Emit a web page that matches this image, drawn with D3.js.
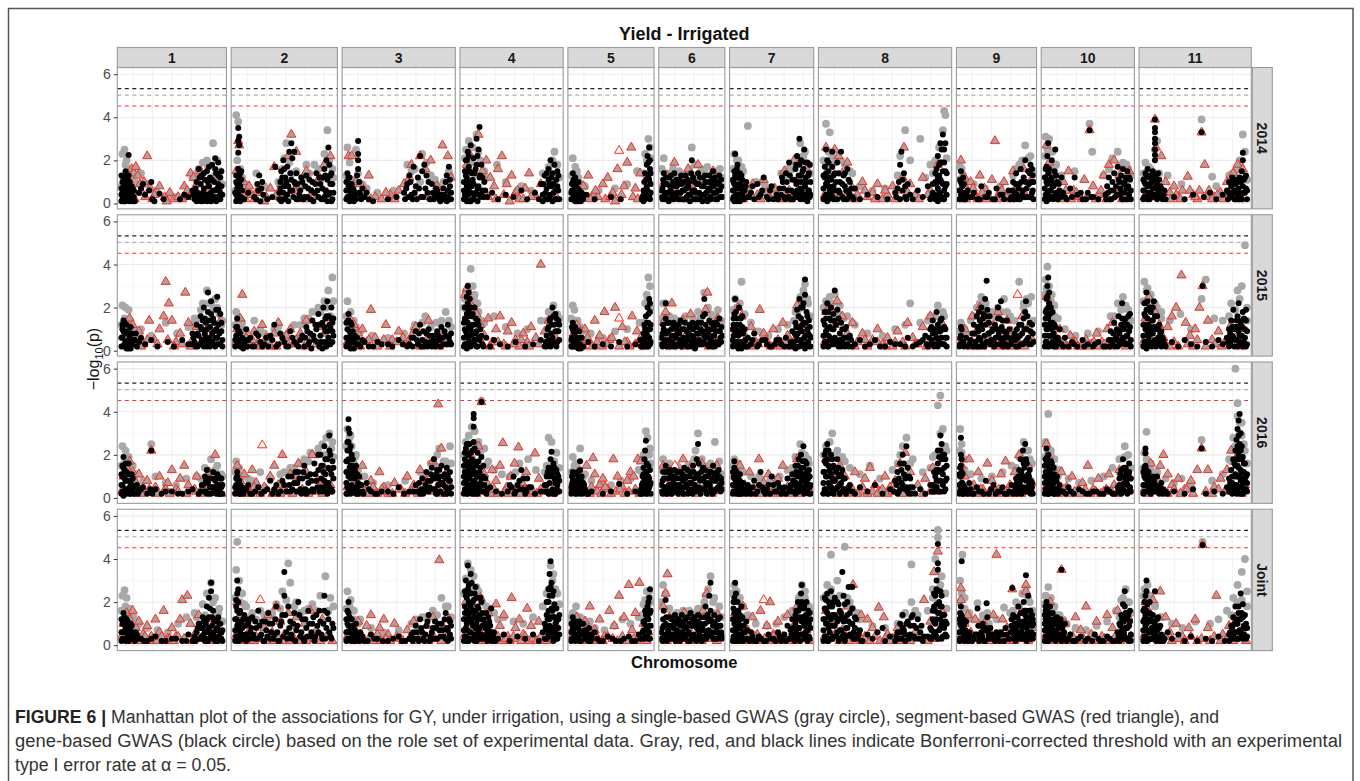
<!DOCTYPE html>
<html>
<head>
<meta charset="utf-8">
<script src="https://cdn.jsdelivr.net/npm/d3@7"></script>
<style>
body { margin: 0; background: #fff; }
text { font-family: "Liberation Sans", Arial, sans-serif; }
</style>
</head>
<body>
<script>
var W = 1360, H = 781;

var years = ["2014", "2015", "2016", "Joint"];
var chromosomes = ["1", "2", "3", "4", "5", "6", "7", "8", "9", "10", "11"];
// relative width of each chromosome facet
var chrSize = [109, 106, 113, 103, 86, 66, 84, 133, 80, 93, 112];
var yTicks = [0, 2, 4, 6];
// Bonferroni thresholds: gene (black), single (gray), segment (red)
var thresholds = [5.33, 5.03, 4.52];

// every chromosome: flat list of position (% of chromosome), -log10(p)
var single2014 = [
  [2,2.3,4,2.5,6,2.0,8,1.6,3,1.2,10,1.3,14,1.0,20,1.4,25,.9,35,.6,48,.4,55,.3,70,1.2,76,1.6,80,1.9,85,1.7,90,2.8,94,2.0,97,1.5,88,1.1,82,.6,1,.8,5,1.8,12,.5,74,1.4,84,2.0,92,1.3,99,.9,66,.5],
  [2,4.1,4,3.8,3,2.0,6,1.6,8,1.2,12,.9,22,1.4,30,.8,44,1.0,50,2.1,52,2.8,55,1.9,62,1.5,68,1.2,75,1.4,80,1.8,86,1.1,93,3.4,95,2.0,98,1.6,1,.6,7,.9,48,1.6,58,1.4,64,.9,72,1.8,84,1.6,90,2.3,99,1.2],
  [2,2.6,4,1.9,10,2.5,12,1.4,8,.9,20,.7,30,.5,45,.6,58,1.8,65,1.6,72,2.3,76,1.9,84,1.1,92,1.0,97,1.5,1,1.3,6,1.1,16,.9,62,1.5,70,1.0,80,1.3,88,.8,98,1.3],
  [3,2.5,6,2.9,10,2.6,14,3.2,16,2.4,4,1.7,12,1.4,25,1.2,35,1.8,44,1.0,60,.8,70,.6,82,1.4,88,1.7,94,2.4,97,1.8,2,2.1,8,1.9,18,2.0,22,1.5,86,1.3,92,2.0,99,1.2],
  [3,2.1,6,1.7,10,1.2,18,.8,35,.6,55,.7,70,.9,82,1.5,92,2.3,96,3.0,98,2.6,2,1.3,8,1.5,14,.9,90,1.4,94,2.0,99,2.1],
  [5,2.1,10,1.4,20,1.6,30,1.5,40,1.3,50,2.6,55,1.8,65,1.6,75,1.7,85,1.4,95,1.6,2,1.6,12,1.1,26,1.4,36,1.2,46,1.6,58,1.3,70,1.5,82,1.3,90,1.5,98,1.2],
  [3,2.3,8,2.0,20,3.6,14,1.5,30,1.0,42,.8,55,.6,62,1.4,70,1.6,80,1.9,86,2.8,92,2.4,97,1.8,1,1.6,6,2.0,12,1.7,38,1.0,66,1.3,76,1.6,84,2.0,90,2.2,99,1.4],
  [3,3.7,6,3.3,8,2.2,12,2.0,18,1.8,22,1.5,30,.8,40,.6,50,.7,60,1.3,66,3.4,70,2.0,78,3.0,82,1.2,88,1.4,94,2.6,97,4.3,98,4.1,96,3.4,1,2.0,5,2.4,10,1.9,15,2.0,24,1.4,62,2.2,86,1.8,90,2.0,93,2.6,99,2.1],
  [2,1.7,6,1.3,20,.9,35,.7,55,.8,72,1.3,80,1.8,88,2.7,95,2.2,1,1.1,4,1.6,10,1.0,76,1.6,84,2.0,92,2.1,99,1.5],
  [2,3.1,6,3.0,10,2.4,14,1.8,20,1.3,35,1.5,52,3.7,55,2.4,68,1.3,78,2.1,84,2.4,90,1.9,96,1.6,1,2.2,4,2.5,8,1.7,12,1.5,74,1.6,86,1.7,94,1.8,99,1.3],
  [3,1.9,8,1.6,12,2.5,14,2.9,24,1.3,37,.9,56,3.9,66,1.25,70,.8,85,1.4,92,2.0,95,3.2,97,2.4,1,1.4,6,1.7,10,1.2,16,1.4,82,1.3,88,1.5,93,1.7,99,1.1]
];
var seg2014 = [
  [5,.6,8,1.1,11,1.6,13,1.4,15,1.7,17,1.3,19,.9,21,.5,23,1.0,26,2.2,29,.7,33,.4,38,.8,43,.3,48,.5,52,.2,56,.3,62,.8,65,.6,68,1.4,71,1.2,74,.9,78,1.5,84,.7,92,1.2,7,.3,10,.6,14,.2,24,.3,31,.2,45,.1,60,.2,67,.3,82,.4],
  [2,1.5,4,2.9,5,2.7,9,1.0,13,.6,17,.4,20,.2,26,.5,32,.3,36,.7,40,1.7,44,.3,50,1.0,54,2.2,57,3.2,62,2.4,66,.8,72,1.5,78,.5,85,1.2,90,1.8,96,2.2,11,.2,15,.8,23,.6,30,.1,42,.4,47,.9,60,.6,70,.2,82,.3,93,.5],
  [3,2.2,6,2.2,10,1.0,14,.9,18,.6,22,1.3,28,.3,34,.2,42,.4,50,.6,55,.9,60,1.2,62,1.8,70,2.2,75,1.6,80,2.0,86,.8,91,2.7,96,2.2,99,1.2,5,.4,12,.3,24,.2,38,.5,46,.2,64,.4,78,.3,88,.5,94,.2],
  [4,1.8,8,2.2,16,3.2,20,1.5,24,2.0,28,1.2,32,.8,36,1.6,40,2.2,45,.9,50,1.3,54,.5,58,.2,64,.7,68,1.4,74,.4,80,.9,86,.3,92,1.1,10,.3,18,.5,26,.3,34,.2,42,.4,48,.1,56,.6,62,.2,70,.3,96,.3],
  [4,1.0,10,.6,16,.8,22,1.3,28,.4,34,.3,40,.9,46,1.2,52,.5,58,1.6,66,.8,70,1.9,75,2.6,80,.7,86,1.4,94,1.1,7,.2,13,.3,25,.2,31,.6,43,.2,49,.3,55,.1,63,.4,77,.3,83,.2,90,.4],
  [4,.9,10,1.3,16,.6,22,1.9,28,.4,36,1.0,44,1.6,52,.7,60,1.8,68,1.1,76,.5,84,1.5,92,.8,6,.3,14,.2,26,.5,40,.2,56,.4,72,.2,88,.3],
  [4,1.2,10,.7,18,.3,26,.9,32,.4,40,1.1,48,.3,54,.7,60,.2,66,1.5,72,.6,78,2.0,86,1.0,94,1.6,7,.4,14,.2,22,.6,36,.2,44,.5,58,.3,74,.2,82,.4,90,.3],
  [3,2.6,6,1.7,10,2.5,13,2.2,16,1.4,20,1.9,24,.7,28,.4,32,1.0,36,.3,40,.5,44,.9,48,.2,52,.4,56,.8,60,.6,64,1.2,65,2.6,70,.9,74,.4,80,1.2,86,.6,92,1.8,2,.4,9,.5,18,.3,26,.2,34,.6,42,.2,50,.6,58,.2,68,.5,77,.2,84,.4,89,.3],
  [3,2.0,8,1.2,12,.6,16,1.0,22,.4,28,1.3,34,.7,40,.3,44,1.1,48,2.9,54,.5,60,1.0,66,.4,72,1.5,78,.8,86,1.6,94,1.0,5,.3,10,.2,19,.7,25,.2,31,.5,37,.2,51,.2,57,.6,63,.3,69,.2,81,.4,90,.3],
  [3,2.7,6,1.9,10,1.2,16,.5,22,1.0,28,1.5,34,.6,40,.3,46,1.1,52,3.4,56,.8,62,.4,68,1.3,74,1.8,80,2.0,86,1.3,92,.7,97,1.5,8,.5,13,.3,19,.2,25,.6,31,.2,37,.5,43,.2,49,.3,59,.2,65,.6,71,.2,83,.4,89,.2],
  [4,1.3,8,.8,12,3.9,13,2.6,18,2.2,22,1.0,26,.5,30,.8,34,.3,38,.6,43,1.25,48,.4,52,.2,56,3.3,59,1.8,63,.6,68,.3,74,.5,80,1.0,86,1.4,90,1.8,95,1.6,2,.3,7,.3,10,.6,16,.3,20,.5,27,.2,32,.4,36,.2,45,.6,50,.3,54,.6,61,.3,66,.2,71,.4,77,.2,83,.5,93,.2]
];
var gene2014 = [
  [1,.1,1,.4,1,.7,2,1.0,2,.2,3,.5,3,.8,3,1.2,4,.1,4,.3,4,.6,5,.9,5,1.3,5,1.5,6,.2,6,.5,7,.8,7,1.1,8,2.25,8,.3,9,.6,9,1.0,10,.2,11,.4,12,.7,13,.3,14,.1,18,.5,20,.7,22,.9,24,.4,28,.6,30,1.0,31,.2,33,.1,38,.45,42,.2,58,.2,62,.4,66,.3,70,.6,72,.2,74,1.0,75,.5,76,1.6,77,.3,78,.9,79,1.3,80,.1,81,.7,82,1.1,83,.4,84,1.5,85,.2,86,.8,87,1.2,88,.5,89,1.8,90,.2,91,1.0,92,2.1,92,.6,93,1.4,94,.3,95,1.9,95,.9,96,.2,97,1.2,97,.5,98,.8,1,1.3,2,.5,3,.1,4,.9,5,.1,6,.9,7,.5,8,1.3,9,.1,10,.5,11,.8,12,.1,13,.6,71,.4,73,.7,74,.1,76,.3,77,1.2,78,.1,80,.5,81,1.4,82,.3,84,.1,85,1.0,86,1.7,87,.4,88,.1,89,1.1,90,.6,91,.3,92,1.6,93,.1,94,.7,95,1.3,96,.6,97,.2,98,1.5,99,.4],
  [2,.1,2,.4,3,.7,2,1.0,3,1.3,4,1.6,3,.2,4,.5,5,.9,5,1.2,4,2.35,5,2.7,4,2.9,5,3.1,4,3.5,6,1.4,7,.3,8,.6,7,1.5,10,.2,14,.5,20,.3,23,.9,25,1.3,27,.7,29,.4,33,.2,38,.3,41,1.7,45,.5,46,1.0,47,1.5,48,.2,49,2.0,50,.8,51,1.2,52,.4,53,1.7,54,.1,55,2.4,56,.6,57,2.8,57,1.1,58,2.1,59,.3,60,2.4,61,.9,62,1.4,64,.2,66,.6,68,1.0,70,.3,72,1.3,74,.7,76,.2,78,1.0,80,.5,82,1.4,84,.3,86,.9,88,1.2,89,.2,90,1.6,91,.6,92,2.0,93,1.1,94,2.6,94,.4,95,1.8,96,.9,97,1.4,98,.2,1,.5,2,1.3,3,.9,6,.1,6,.8,7,1.1,8,.2,22,.2,24,.6,26,.1,28,1.0,45,.2,46,.7,47,.1,48,1.2,49,.5,50,1.6,51,.2,52,1.0,53,.4,54,.8,56,1.4,58,.6,60,1.0,62,.2,63,.9,65,.4,67,1.2,69,.2,71,.8,73,.3,75,1.1,77,.6,79,.1,81,.9,83,.6,85,1.2,87,.2,88,.7,90,.3,91,1.3,92,.4,93,.1,95,.5,96,1.3,97,.1,98,.9,99,.5],
  [1,.2,1,.6,2,1.0,2,1.4,3,.3,3,.8,4,.1,4,1.2,5,.5,6,.9,7,.2,8,.6,11,1.3,12,1.6,12,2.0,12,2.3,12,2.9,13,1.0,14,.4,16,.7,18,.3,20,.5,22,.2,26,.1,40,.2,48,.3,55,.5,58,.9,60,1.3,62,.4,64,1.7,66,.8,68,1.2,70,2.2,71,.3,72,1.5,74,1.8,75,.7,76,1.3,78,1.0,80,.2,82,.5,84,.3,86,.6,88,.2,90,.4,92,.7,94,1.0,95,1.3,96,.3,97,1.7,98,.8,99,.5,1,1.0,2,.3,3,1.2,4,.6,5,.2,6,.4,7,.7,8,.1,9,.4,10,.2,13,.5,15,.2,56,.2,57,.7,59,.3,61,1.0,63,.2,65,.5,67,.2,69,.7,73,.3,77,.5,79,.2,81,.9,83,.2,85,.7,87,.4,89,.1,91,.2,93,.4,95,.1,96,.6,97,.2,98,1.1,99,.2],
  [1,.2,1,.6,2,1.0,2,1.5,3,.3,3,2.0,4,.8,4,1.2,5,2.4,5,.4,6,1.7,7,.1,7,1.0,8,2.7,8,.5,9,1.4,10,.2,11,2.1,11,.9,12,.4,13,1.6,14,3.0,15,.7,16,2.5,17,3.55,17,1.2,18,.3,19,1.8,20,.6,22,1.0,25,.3,30,.5,36,.2,44,.4,52,.3,60,.6,66,.2,74,.5,78,.2,80,.9,82,.4,84,1.3,85,.2,86,.7,88,1.6,88,1.1,89,.3,90,2.0,91,.8,92,1.4,93,.5,94,1.8,95,.2,96,1.1,97,1.5,98,.6,1,1.0,2,.4,3,1.3,4,.1,4,2.0,5,1.0,6,.6,6,2.2,7,1.5,8,.1,9,.8,10,1.1,11,.2,12,1.4,13,.5,14,1.8,15,.1,15,2.2,16,.8,17,.4,18,1.3,19,.4,20,1.2,21,.3,23,.6,82,.1,83,.9,85,.5,86,1.4,87,.2,89,.9,90,.4,91,1.2,92,.1,93,.9,95,.6,96,.2,97,.8,98,1.3,99,.2],
  [1,.2,2,.6,3,1.0,3,1.4,4,.3,5,.8,6,1.2,7,.4,8,.1,9,.7,10,1.0,12,.3,14,.5,16,.2,20,.4,30,.2,50,.3,62,.2,88,.2,90,.6,91,1.0,92,1.4,93,.3,94,1.8,94,.8,95,2.2,96,1.2,96,.5,97,2.6,98,1.6,98,.2,99,.9,1,.5,2,.9,3,.2,4,1.1,5,.4,6,.1,7,.9,8,.6,9,.3,10,.1,11,.6,13,.1,15,.4,89,.3,90,.1,91,.5,92,.2,93,1.1,95,.6,96,1.9,97,.3,97,1.1,98,2.0,99,.5,99,1.4],
  [2,.3,3,.7,4,1.1,5,1.4,6,.2,8,.5,10,.9,12,.2,14,1.2,16,.6,18,.3,20,1.0,22,1.4,24,.4,26,.8,28,.2,30,1.1,32,.5,34,.9,36,.2,38,.6,40,1.3,42,.3,44,.8,46,1.0,48,.4,50,2.0,52,1.2,54,.6,56,.2,58,.9,60,1.4,62,.5,64,.2,66,.8,68,1.2,70,.4,72,1.0,74,.2,76,.7,78,1.3,80,.3,82,.9,84,1.5,86,.5,88,.2,90,1.0,92,.6,94,1.3,96,.3,98,.8,1,.6,3,.2,5,.9,7,.4,9,1.2,11,.5,13,.1,15,.8,17,1.3,19,.5,21,.2,23,.8,25,1.1,27,.5,29,.9,31,.2,33,1.3,35,.6,37,1.0,39,.2,41,.7,43,1.1,45,.4,47,.1,49,1.4,51,.6,53,.2,55,1.0,57,.5,59,.2,61,.9,63,1.2,65,.4,67,.1,69,.8,71,1.3,73,.5,75,.1,77,1.0,79,.6,81,.2,83,1.1,85,.8,87,1.2,89,.5,91,.2,93,.9,95,.6,97,1.1,99,.3],
  [1,.2,2,.6,2,1.0,3,1.5,4,2.3,4,.3,5,.8,6,1.2,7,1.8,8,.4,9,.9,10,1.4,11,.2,12,.7,13,1.1,14,.3,16,.6,18,1.0,20,.3,24,.5,28,.2,32,.9,36,.4,40,1.2,44,.3,48,.6,52,.2,56,.4,60,.7,64,1.0,66,.3,68,1.4,70,.6,72,1.9,74,.2,76,1.1,78,.5,80,1.6,81,.9,82,2.2,83,.3,84,1.3,85,3.0,86,.7,87,2.0,88,1.0,89,.4,90,1.6,91,2.5,92,.8,93,1.2,94,.2,95,1.9,96,.6,97,1.4,98,.3,99,1.0,1,.6,1,1.1,2,.3,3,.1,3,.9,4,1.3,5,.4,6,.1,6,1.6,7,.7,8,1.2,9,.4,10,.1,11,.9,12,1.3,13,.5,15,.2,17,.8,22,.3,26,.8,34,.3,38,.6,46,.2,50,.8,58,.2,62,.4,63,1.2,65,.7,67,.2,69,1.0,71,.3,73,1.3,75,.6,77,.2,79,1.1,80,.3,81,1.8,82,.6,83,1.0,84,.4,85,1.8,86,.2,87,1.3,88,.6,89,1.5,90,.2,91,1.0,92,1.9,93,.4,94,1.0,95,.1,96,1.3,97,.6,98,1.8,99,.4],
  [1,.2,1,.7,2,1.2,2,1.7,3,2.5,3,.4,4,1.0,4,2.0,5,.2,5,1.5,6,.6,7,1.1,8,2.4,8,.3,9,.8,10,1.4,11,.2,12,1.9,13,.6,14,1.0,15,2.4,16,.3,17,1.3,18,.8,19,.2,20,1.6,21,.5,22,1.0,24,.3,26,.7,30,.2,36,.4,44,.3,52,.2,58,.5,61,1.0,62,1.8,63,2.4,64,.6,65,1.4,66,.3,68,.9,72,.2,76,.6,80,.3,84,.8,86,.2,88,.5,90,1.0,91,1.6,91,.3,92,2.2,92,.7,93,1.3,94,2.8,94,.4,95,1.9,95,1.0,96,3.2,96,.2,97,2.5,97,.6,98,1.5,99,.9,1,1.3,2,.3,3,.9,3,1.4,4,.1,5,.8,5,1.9,6,1.2,7,.4,8,1.7,9,.2,9,1.3,10,.6,11,1.0,12,.2,13,1.4,14,.5,16,.9,17,.2,18,1.4,19,.6,20,.2,21,1.1,22,.4,23,.7,25,.2,59,.3,60,.7,62,.2,64,1.1,66,.8,67,.2,70,.4,87,.3,88,.9,89,.4,90,.2,90,1.4,91,.9,92,.1,92,1.2,93,.5,93,1.8,94,1.1,94,1.9,95,.3,95,2.5,96,.9,96,1.5,97,.2,97,1.9,98,.8,98,2.8,99,.4,99,1.4],
  [1,.2,2,.6,3,1.0,3,1.5,4,.3,5,.8,6,1.2,7,.4,9,.2,12,.6,15,.3,20,.5,25,.2,30,.8,35,.3,40,.5,45,.2,50,.7,55,.4,60,.2,66,.6,70,.3,72,1.0,74,.5,76,1.4,78,.2,80,.9,82,1.6,84,.4,86,1.2,88,2.0,90,.7,92,1.5,94,.3,95,1.8,96,1.0,97,.5,98,1.3,99,.2,1,.6,2,.2,2,1.1,3,.4,4,.9,5,.2,6,.5,7,.9,8,.2,10,.4,18,.3,28,.2,38,.3,48,.2,58,.4,68,.2,71,.6,73,.2,75,.9,77,.4,79,.7,81,.2,83,1.0,85,.6,87,.3,89,1.0,91,.3,93,.9,94,1.4,96,.3,97,1.6,98,.6,99,1.0],
  [1,.2,1,.7,2,1.2,3,1.7,3,.4,4,2.2,4,.9,5,1.4,5,2.8,6,.2,7,.6,8,1.1,9,2.0,10,.3,11,.8,12,1.5,13,2.5,14,.5,15,1.0,16,.2,18,.6,20,1.2,24,.3,30,.7,35,1.2,38,.4,44,.2,50,.5,52,3.4,56,.3,62,.2,70,.4,72,.8,74,1.2,75,.2,76,.6,78,1.0,80,1.4,81,.3,82,.8,84,1.7,85,1.1,86,.4,87,.7,88,1.3,89,.2,90,1.6,91,.9,92,.5,93,1.2,94,.2,95,1.5,96,.8,97,.4,98,1.1,99,.6,1,1.2,2,.4,2,1.6,3,.1,3,1.0,4,.5,5,.2,6,1.0,6,1.6,7,.3,8,.6,9,1.2,10,.8,11,.2,12,.9,13,.4,14,1.3,15,.4,17,.9,19,.3,22,.5,26,.2,32,.3,42,.5,48,.2,54,.3,71,.2,73,.5,77,.2,79,.6,83,.4,86,1.0,88,.5,90,.2,92,1.0,94,.7,96,.2,97,1.2,99,.2],
  [1,.2,2,.6,2,1.0,3,1.4,4,.3,5,.8,6,1.2,7,.2,8,.5,9,1.0,10,1.5,11,.4,12,2.0,12,2.25,12,2.5,12,2.8,12,3.0,12,3.3,12,3.5,12,3.9,13,.8,13,1.3,14,.2,15,.6,16,1.1,17,.3,18,.7,20,.4,22,.2,30,.3,40,.2,48,.4,56,3.3,58,.3,64,.5,70,.2,76,.4,80,.6,82,1.0,83,.3,84,.8,85,1.2,86,.5,87,.2,88,.9,89,1.1,90,.4,91,.7,92,1.2,93,.3,94,1.5,95,2.0,95,2.35,95,.8,96,1.1,97,.5,98,1.3,99,.2,1,.6,1,1.1,2,.3,3,.9,4,1.3,5,.2,5,1.6,6,.5,7,.9,8,1.3,9,.3,10,.7,11,1.1,13,.3,14,1.0,15,1.4,16,.4,17,.8,19,.2,21,.6,81,.2,82,.5,84,.3,86,1.0,87,.6,88,.2,89,.6,90,1.0,91,.2,92,.5,93,1.0,94,.2,96,.5,97,1.2,98,.7,99,.6]
];

var single2015 = [
  [2,2.1,5,2.0,8,1.9,4,1.5,10,1.2,14,.9,20,1.0,30,.7,44,1.3,55,.8,66,1.1,72,1.5,78,1.9,84,2.8,88,2.2,92,2.4,96,1.7,98,1.2,1,1.2,7,1.3,12,1.0,70,1.2,76,1.5,80,2.2,86,2.2,90,1.9,94,2.0,99,1.4],
  [2,1.8,4,1.5,8,1.3,12,.9,20,1.4,30,.8,40,1.0,50,.7,60,1.2,70,1.5,78,1.8,84,2.0,90,2.3,94,2.8,98,3.4,96,1.6,1,1.2,6,1.1,26,1.0,44,1.1,66,1.2,74,1.5,86,1.8,92,2.0,99,2.3],
  [2,2.3,5,1.8,8,1.4,14,.9,25,.7,40,.6,55,.8,65,1.2,75,1.6,85,1.3,94,1.8,97,1.4,1,1.6,4,1.2,10,1.1,64,1.0,72,1.3,80,1.1,90,1.4,99,1.1],
  [3,2.7,6,3.0,8,3.8,10,3.0,12,2.6,15,2.2,4,1.9,22,1.3,32,1.6,44,1.1,56,.8,66,1.0,80,1.4,88,1.8,93,2.1,97,1.7,1,2.0,2,2.4,12,2.3,16,1.8,19,1.4,86,1.4,90,1.8,99,1.5],
  [3,2.1,5,1.9,9,1.4,15,.9,25,.8,40,.6,55,.9,70,1.0,85,1.3,92,2.2,96,3.4,98,3.0,94,2.6,1,1.5,6,1.4,12,1.1,90,1.3,95,2.4,99,2.0],
  [4,2.2,8,2.2,14,1.6,22,1.5,30,1.3,40,1.6,50,1.2,60,1.8,70,2.7,76,2.0,84,1.6,92,1.9,97,1.4,2,1.5,12,1.6,26,1.4,38,1.5,52,1.5,64,1.5,80,1.7,88,1.6,96,1.4],
  [4,2.4,10,2.2,12,3.2,16,1.7,24,1.3,34,.9,46,.7,58,1.0,70,1.2,80,1.8,86,2.5,90,2.8,92,3.1,96,2.2,1,1.9,6,2.0,14,1.6,30,.9,78,1.4,84,1.9,88,2.2,95,2.4,99,1.6],
  [3,2.3,6,2.5,10,2.6,14,2.1,20,1.6,26,1.2,36,.8,48,.7,58,1.0,66,1.2,70,2.2,78,1.3,86,1.6,92,2.1,96,1.8,1,2.0,4,2.2,8,2.2,12,1.8,17,1.5,24,1.3,84,1.4,90,1.6,97,1.6],
  [3,1.3,8,1.0,16,1.4,24,2.0,30,2.5,36,2.2,44,1.8,52,2.0,60,2.4,68,1.6,80,3.2,86,2.0,92,2.2,96,2.5,1,.9,10,.8,20,1.6,28,2.2,34,2.0,40,1.6,48,1.6,56,1.8,64,1.8,74,1.4,86,2.2,90,2.4,99,1.4],
  [2,3.3,4,3.9,6,3.0,9,2.6,12,2.1,16,1.5,24,1.0,36,.7,50,.8,62,.9,76,1.6,84,2.2,90,2.5,96,1.9,1,2.6,3,2.9,6,2.5,8,2.3,12,1.6,80,1.6,88,1.9,93,2.1,99,1.4],
  [2,3.2,5,2.9,8,2.6,12,2.2,18,1.8,26,1.4,36,1.7,46,1.0,56,2.4,60,3.3,68,1.5,76,1.4,84,2.2,90,2.8,94,3.0,97,4.9,99,2.0,1,2.3,4,2.8,8,2.0,14,2.0,18,1.5,82,1.6,88,1.9,92,2.4,99,1.4]
];
var seg2015 = [
  [3,.7,6,1.0,9,1.5,12,1.2,15,.6,18,.9,22,.3,28,1.4,33,.5,38,1.0,42,1.6,44,3.2,47,2.2,50,1.4,54,.4,58,.8,63,2.7,66,1.3,70,.5,74,1.1,78,.3,84,1.0,90,.6,96,1.3,4,.3,10,.4,20,.2,26,.5,36,.3,46,.5,52,.2,60,.3,68,.2,80,.5,93,.4],
  [3,1.0,6,1.5,8,2.6,12,.6,16,.3,20,.9,24,.4,28,1.2,32,.6,36,.2,40,.8,44,1.3,48,.4,52,.7,56,1.0,60,.3,66,.8,72,1.4,78,.6,84,1.1,90,.8,96,1.5,2,.4,10,.2,18,.5,26,.2,34,.4,42,.2,54,.3,62,.5,70,.2,82,.3,88,.2,94,.4],
  [4,1.5,8,1.2,12,.8,16,1.0,20,.4,24,1.9,28,.6,32,.3,38,1.2,44,.5,50,.9,56,.3,62,.7,66,1.1,72,.4,78,1.4,84,.6,90,.9,96,.3,2,.4,6,.3,10,.5,14,.2,22,.5,30,.2,36,.5,42,.2,48,.4,54,.6,60,.3,70,.2,76,.5,82,.3,88,.2,94,.5],
  [2,2.6,4,2.9,6,2.5,10,2.0,14,1.7,18,1.2,22,.7,26,1.5,30,.4,34,1.0,38,1.6,42,.3,46,.9,50,1.3,54,.5,58,.2,62,.8,66,.4,70,1.1,75,.6,80,4.0,84,.9,88,1.4,94,.7,8,.5,12,.3,20,.3,28,.2,36,.4,44,.2,52,.3,60,.5,68,.2,78,.3,90,.3],
  [4,.8,8,1.2,12,.5,18,1.0,24,.4,30,1.4,36,.7,42,1.8,48,.5,55,2.0,64,1.1,70,.4,76,1.6,82,.9,88,.3,94,1.2,2,.3,6,.2,10,.3,16,.2,21,.6,27,.2,33,.4,39,.2,45,.3,51,.6,60,.2,67,.4,73,.2,80,.3,85,.5,91,.2],
  [4,1.3,8,1.8,12,.7,18,2.2,24,1.0,30,.4,36,1.4,42,.8,48,1.7,54,.5,60,1.2,66,.3,72,1.9,75,2.7,80,1.0,86,.6,92,1.5,6,.3,15,.2,27,.5,39,.2,51,.3,63,.6,77,.2,89,.3],
  [4,1.0,8,2.0,12,1.6,18,.6,24,1.1,30,.4,35,1.9,40,.8,46,.3,52,1.0,58,.5,64,1.3,70,.7,76,.3,82,2.1,88,1.2,94,.8,2,.4,6,.3,14,.2,20,.5,27,.2,33,.3,43,.5,49,.2,55,.3,61,.2,67,.4,73,.2,79,.5,91,.3],
  [3,1.8,6,2.0,10,1.2,12,2.3,16,1.6,20,.8,24,1.3,28,.4,32,.8,36,.2,40,.5,44,1.0,48,.3,52,.6,56,.2,60,.9,64,.4,68,1.3,72,.6,76,.3,80,1.1,86,1.6,92,.7,96,1.2,2,.4,7,.5,14,.3,18,.4,26,.2,34,.5,44,.4,50,.2,58,.4,66,.2,74,.3,83,.2,89,.4],
  [4,.6,8,1.0,12,.4,18,1.6,22,.8,28,2.0,34,1.5,40,.6,46,1.2,52,1.8,58,.5,64,1.4,70,.9,76,.4,84,1.6,90,1.0,96,.6,2,.3,10,.3,16,.2,24,.4,31,.2,37,.3,43,.4,49,.2,55,.3,61,.2,67,.4,73,.2,81,.3,87,.2,93,.5],
  [3,2.5,6,1.8,10,1.2,14,.6,18,1.0,24,.3,30,.7,36,.4,42,.2,48,.5,54,.3,60,.8,66,.4,72,1.0,78,1.3,84,.6,90,1.1,96,.4,5,.3,8,.5,12,.3,16,.2,21,.4,27,.2,33,.4,39,.2,45,.3,51,.2,57,.4,63,.2,69,.3,75,.2,81,.4,87,.3,93,.2],
  [3,1.5,6,2.5,9,2.0,12,1.8,16,1.2,20,.6,24,1.1,28,1.6,32,2.0,37,3.5,41,1.3,45,.7,50,1.0,54,2.0,57,3.0,62,1.4,66,.5,72,.9,78,.4,84,1.2,90,.7,96,1.0,1,.4,8,.5,14,.3,18,.5,22,.3,26,.2,30,.4,34,.2,43,.3,48,.2,52,.5,60,.2,69,.3,75,.2,81,.5,87,.3,93,.2]
];
var gene2015 = [
  [1,.2,2,.6,2,1.0,3,1.4,4,.3,5,.8,6,1.2,7,.4,8,.1,9,.7,10,1.1,12,.3,14,.5,16,.2,20,.6,24,.3,30,.5,36,.2,46,.4,52,.2,60,.5,66,.3,70,.8,72,.4,74,1.2,75,.2,76,.7,78,1.6,79,1.0,80,.4,81,2.0,82,.8,83,1.3,84,.2,85,2.7,85,1.8,86,.6,87,1.1,88,2.3,89,.4,90,1.5,91,.9,92,.2,93,1.9,94,2.5,94,.6,95,1.2,96,.3,97,1.7,98,.9,99,.5,1,.6,2,1.2,3,.2,3,.9,4,1.3,5,.4,6,.1,7,.9,8,.5,9,.3,10,.1,11,.8,13,.5,15,.8,18,.4,69,.3,71,.6,73,.2,75,.8,77,.3,78,1.1,79,.5,80,1.4,81,.2,82,1.5,83,.6,84,1.0,85,.4,86,1.4,87,.2,88,1.7,89,.8,90,.3,91,1.3,92,.6,93,1.0,94,.3,95,1.9,96,.8,97,.3,98,1.3,99,.2],
  [1,.2,2,.7,3,1.1,3,1.5,4,.4,5,.9,6,.2,8,.6,10,.3,12,1.0,14,.5,18,.2,22,.8,26,.4,30,.3,36,.7,40,1.2,44,.3,48,.6,52,.2,56,.9,60,.4,64,.2,68,.7,72,1.1,74,.3,76,.8,78,1.4,80,.5,82,1.0,84,1.7,85,.2,86,.7,88,1.3,89,2.0,90,.4,91,.9,92,1.6,93,2.3,94,.6,95,1.2,96,.3,97,2.0,98,.9,99,1.5,1,.5,2,1.1,3,.3,4,.9,5,.5,6,.8,7,.3,9,.1,11,.5,13,.2,16,.6,20,.2,24,.7,28,.2,32,.6,34,.2,38,.5,42,.2,46,.8,50,.4,54,.2,58,.6,62,.3,66,.5,70,.2,71,.6,73,.9,75,.4,77,.1,79,.7,81,1.2,83,.4,85,1.2,87,.4,88,.1,90,1.1,91,1.5,92,.2,93,.9,94,1.6,95,.4,96,1.1,97,1.5,98,.4,98,1.3,99,.7],
  [1,.2,2,.6,2,1.0,3,1.4,3,1.7,4,.3,5,.8,6,1.2,7,.4,8,.1,9,.7,12,.3,16,.5,22,.2,30,.4,40,.3,50,.5,58,.2,62,.6,66,.9,68,.3,70,1.2,72,.5,74,.2,76,.8,78,1.0,80,.4,82,.7,84,.2,86,.9,88,.5,90,1.1,92,.3,94,.7,96,1.2,98,.4,99,.8,1,.6,1,1.3,2,.3,3,.5,4,.9,5,.1,5,1.3,6,.6,7,.9,8,.4,10,.3,11,.6,14,.2,18,.4,26,.2,34,.3,44,.2,54,.3,60,.3,63,.2,64,.6,67,.5,69,.8,71,.2,73,.9,75,.4,77,.2,79,.7,81,.2,83,.5,85,.3,87,.7,89,.2,91,.6,93,.9,95,.3,97,.6,99,.3],
  [1,.2,1,.6,2,1.0,2,1.5,3,2.0,3,.3,4,2.5,4,.8,5,1.3,5,3.0,6,1.8,6,.4,7,1.0,7,2.4,8,.2,9,.7,9,1.6,10,1.2,11,.4,12,2.0,13,.8,14,.2,15,1.4,16,.6,18,1.0,20,.3,24,.6,28,.2,32,.5,38,.3,46,.2,54,.4,64,.2,72,.3,80,.5,84,.2,86,.7,88,1.1,89,.3,90,1.5,91,.8,92,2.0,93,.4,94,1.2,95,1.7,96,.2,97,.9,98,1.4,99,.5,1,1.3,2,.3,2,2.0,3,.9,3,1.5,4,.1,4,1.7,5,.6,5,2.2,6,1.1,6,2.7,7,.4,7,1.6,8,1.0,8,2.0,9,.3,10,.8,10,1.7,11,1.2,12,.5,13,1.5,14,.9,15,.2,16,1.2,17,.5,19,.7,21,.2,85,.4,86,.2,87,1.0,88,.5,89,1.4,90,.2,91,1.2,92,.6,93,1.6,94,.3,95,.9,96,1.5,97,.4,98,.9,99,1.2],
  [1,.2,2,.6,3,1.0,3,1.3,4,.3,5,.8,6,.2,7,.5,8,.9,10,.3,12,.6,16,.2,22,.4,30,.2,40,.3,50,.2,60,.4,70,.2,80,.3,86,.5,88,.2,90,.8,91,1.2,92,.4,93,1.6,94,.9,95,2.0,95,.3,96,1.3,97,2.4,97,.6,98,1.8,98,1.0,99,.4,1,.5,2,1.1,3,.2,4,.9,5,.4,6,1.1,7,.2,8,.4,9,.6,10,.1,11,.9,12,.3,13,.1,14,.6,87,.2,89,.4,90,.2,91,.6,92,1.0,93,.2,94,1.3,95,.7,96,.2,96,1.7,97,1.0,98,.3,98,2.2,99,1.2],
  [2,.3,3,.8,4,1.2,6,.5,8,2.2,8,1.5,10,.2,12,.9,14,1.3,16,.4,18,.7,20,1.1,22,.2,24,.6,26,1.0,28,.3,30,.8,32,1.4,34,.2,36,.6,38,1.0,40,.3,42,.9,44,.5,46,1.2,48,.2,50,.7,52,1.0,54,.4,56,.2,58,.8,60,1.3,62,.5,64,1.0,66,.3,68,1.6,70,2.4,70,.7,72,1.2,74,.3,76,.9,78,1.4,80,.5,82,1.0,84,.2,86,.7,88,1.3,90,.4,92,.9,94,1.5,96,.6,98,1.1,1,.6,3,.2,5,1.0,7,.4,9,.8,11,1.3,13,.5,15,.2,17,1.0,19,.4,21,1.3,23,.7,25,.2,27,.9,29,1.2,31,.5,33,.2,35,1.0,37,.4,39,1.3,41,.6,43,.2,45,.8,47,1.1,49,.4,51,1.3,53,.6,55,.1,57,1.1,59,.4,61,.8,63,.3,65,1.3,67,.9,69,.4,71,1.7,73,.6,75,1.0,77,.2,79,.7,81,1.3,83,.4,85,1.1,87,.2,89,.9,91,1.2,93,.3,95,.9,97,.4,99,.7],
  [1,.2,2,.7,2,1.2,3,1.7,4,2.4,4,.4,5,1.0,6,1.5,7,.2,8,.7,9,2.0,10,1.2,11,.3,12,.8,13,1.6,14,.4,16,1.0,18,.2,20,.6,24,.3,28,.8,32,.2,38,.5,44,.3,50,.2,56,.5,62,.3,68,.6,72,.2,76,.9,78,.4,80,1.3,81,.7,82,1.9,83,.2,84,1.1,85,2.4,86,.5,87,1.5,88,.9,89,2.0,90,.3,91,1.3,92,3.3,92,2.6,93,.7,94,1.8,95,1.0,96,.4,97,1.4,98,.7,99,.2,1,.5,1,1.0,2,1.5,3,.3,3,1.1,4,.8,5,1.8,6,.4,7,1.2,8,.1,9,.9,10,.4,11,1.5,12,.1,13,1.1,14,.8,15,.3,17,.5,20,.2,26,.5,34,.3,42,.5,48,.2,54,.3,60,.5,66,.2,74,.4,77,.2,79,.8,80,.1,81,1.1,82,.5,83,.8,84,1.6,85,.2,86,1.0,87,2.0,88,.3,89,1.2,90,2.2,91,.6,92,.1,93,1.3,94,.3,95,1.6,96,.8,97,.2,98,1.1,99,.6],
  [1,.2,1,.7,2,1.2,2,1.8,3,.4,4,1.0,4,2.2,5,.2,6,1.5,6,.6,7,2.0,8,.3,9,1.0,10,2.8,10,1.4,11,.5,12,1.9,13,.2,14,.8,15,1.3,16,.4,18,1.0,20,.3,22,.7,24,.2,30,.5,38,.3,46,.2,54,.4,62,.3,68,.6,72,.2,78,.4,82,.7,84,.2,86,1.0,87,.5,88,1.4,89,.2,90,.8,91,1.8,92,1.2,93,.4,94,.9,95,1.5,96,.3,97,1.1,98,.6,99,.2,1,1.4,2,.4,3,.9,3,1.5,4,.2,5,.7,5,1.8,6,1.1,7,.5,7,1.4,8,1.0,9,.3,9,1.7,10,.6,11,1.2,12,.3,13,1.5,14,.5,15,.2,16,1.0,17,.6,18,.2,19,1.1,20,.6,21,.2,23,.5,26,.3,34,.2,42,.5,50,.2,58,.3,66,.2,75,.3,80,.5,83,.3,85,.6,86,.3,87,1.1,88,.8,89,1.0,90,.3,91,.6,92,.2,93,1.0,94,1.4,95,.6,96,1.0,97,.3,98,1.0,99,.6],
  [2,.3,3,.7,4,1.0,5,.4,7,.2,10,.6,14,.3,18,.8,20,1.2,22,.4,24,1.6,25,.2,26,.9,28,1.4,29,.5,30,2.0,31,1.0,32,.3,33,1.7,34,.7,35,2.4,36,1.2,37,3.25,37,.4,38,1.9,39,.8,40,1.3,42,.3,44,.9,46,.5,48,1.2,50,.3,52,2.0,53,.8,54,1.5,55,.3,56,2.3,57,1.1,58,.5,60,.9,62,.3,64,1.4,66,.6,70,.4,74,.8,76,.2,78,.6,80,1.2,82,.3,84,.8,86,1.5,88,.4,89,2.3,90,1.0,92,.6,94,1.3,96,.3,98,.8,1,.2,2,.6,3,1.1,6,.4,12,.2,16,.5,19,.2,21,.8,23,.2,25,1.1,27,.6,27,1.8,29,.2,30,1.2,32,1.5,34,.2,36,1.6,38,.4,40,.8,41,1.6,43,.5,45,1.0,47,.2,49,.6,51,1.0,52,1.5,54,.6,56,1.0,58,1.4,59,.2,61,.6,63,.8,65,.2,67,1.0,69,.3,72,.6,75,.5,77,1.0,79,.2,81,.7,83,1.2,85,.3,87,1.0,88,1.8,90,.5,91,1.6,93,.3,95,.9,97,1.2,99,.4],
  [1,.2,1,.7,2,1.2,2,1.8,3,2.4,3,.4,4,3.0,4,1.0,5,3.4,5,1.5,6,.2,6,2.2,7,.7,8,1.3,9,.3,10,1.8,11,.8,12,.4,13,1.1,14,.2,16,.6,18,1.0,20,.3,24,.6,28,.2,32,.4,38,.2,44,.5,50,.3,56,.2,62,.4,68,.2,74,.5,76,.9,78,.3,80,1.3,82,.6,83,1.0,84,.2,85,1.6,86,.8,87,.4,88,1.2,89,2.2,90,.6,91,1.0,92,.3,93,1.5,94,.7,95,1.2,96,.3,97,.9,98,1.7,99,.5,1,1.2,2,.4,2,1.5,3,1.0,3,1.9,4,.2,4,1.6,4,2.5,5,.7,5,2.0,6,1.2,6,2.7,7,.3,7,1.7,8,.7,8,2.0,9,1.0,10,.4,10,1.3,11,.2,12,1.2,13,.6,15,.3,17,.4,22,.2,34,.3,46,.2,58,.3,70,.2,75,.2,77,.5,79,.8,81,.2,83,.5,85,.9,86,.3,88,.5,89,1.5,90,1.0,91,.4,92,1.3,94,.3,95,.7,96,1.6,97,.3,98,1.1,99,.2],
  [1,.2,1,.7,2,1.2,2,1.7,3,2.2,3,.4,4,2.7,4,1.0,5,.2,5,1.5,6,.6,7,2.0,7,1.1,8,.3,9,.8,10,1.4,11,2.3,11,.4,12,1.0,13,.2,14,1.6,15,.6,16,1.2,17,.3,18,.9,20,.5,22,.2,28,.4,34,.2,40,.5,46,.3,52,.2,57,3.0,60,.4,66,.2,72,.5,76,.3,80,.6,82,1.0,83,.3,84,1.4,85,.7,86,1.9,87,.2,88,1.1,89,.5,90,1.6,91,2.2,91,.9,92,.3,93,1.3,94,.7,95,1.8,96,.4,97,1.0,98,1.4,99,.3,1,1.2,2,.4,2,2.2,3,1.0,3,1.6,4,.1,4,1.9,5,.8,5,2.3,6,1.2,6,1.9,7,.4,8,.9,8,1.8,9,.2,9,1.4,10,.8,10,2.0,11,1.1,12,.5,12,1.6,13,1.1,14,.3,15,1.0,16,.4,17,.8,18,.2,19,.6,21,.3,81,.4,82,.2,83,.8,84,.5,85,1.1,86,.6,87,1.0,88,.5,89,1.4,90,.2,90,1.1,91,1.4,92,.7,93,.4,94,1.1,95,.2,96,1.5,97,.6,98,.2,98,1.9,99,.9]
];

var single2016 = [
  [2,2.4,5,2.2,8,1.9,12,1.5,16,1.1,22,.8,30,2.5,34,1.0,44,.7,54,.6,64,.9,74,1.0,82,1.4,88,1.8,94,1.5,98,1.1,1,1.5,4,1.6,10,1.1,14,.8,78,.9,86,1.2,92,1.3,99,1.0],
  [2,1.7,5,1.4,10,1.0,18,.8,26,1.2,36,.9,46,1.1,56,1.4,62,1.0,70,1.8,76,2.1,82,2.0,88,2.5,92,2.8,95,3.0,98,2.6,1,1.2,4,1.1,14,.9,50,1.2,60,1.4,66,1.6,74,1.7,84,2.3,90,2.0,97,2.3,99,1.9],
  [2,3.2,4,2.8,6,2.4,9,1.9,12,1.3,18,1.0,26,.7,40,.6,56,.8,70,1.2,80,1.6,86,2.0,88,2.3,94,1.7,98,2.4,1,2.4,3,2.3,5,2.9,8,1.6,10,2.0,14,1.0,74,1.1,84,1.5,92,1.7,99,1.6],
  [3,2.6,6,2.9,9,3.3,12,3.1,16,2.6,19,4.5,22,2.3,26,1.7,32,1.3,40,1.1,48,1.0,58,1.6,67,1.8,75,1.3,84,1.2,88,2.8,91,2.6,96,2.1,1,2.0,4,2.3,14,2.4,18,2.1,24,1.5,54,1.2,86,1.5,94,1.7,99,1.4],
  [3,1.9,7,1.6,12,2.3,18,1.1,26,.8,38,.7,50,.6,62,.8,74,.9,84,1.3,90,2.0,93,3.1,95,2.8,98,2.3,1,1.2,5,1.5,9,1.4,16,1.0,88,1.2,91,1.8,97,2.0,99,1.6],
  [4,1.8,10,1.3,20,1.1,30,1.4,40,1.2,50,1.6,56,2.2,60,3.0,66,1.8,76,1.5,87,2.6,94,1.7,2,1.3,14,1.6,26,1.5,44,1.5,54,1.8,66,1.5,80,1.6,90,1.5,98,1.1],
  [3,1.8,8,1.6,14,1.2,24,1.0,36,.9,48,.8,60,1.0,70,1.3,80,1.9,86,2.5,92,2.0,97,1.6,1,1.5,5,1.4,10,1.2,34,1.0,54,.9,76,1.4,82,1.8,88,2.1,96,1.8],
  [3,2.4,6,2.6,8,3.0,12,2.2,16,1.9,22,1.4,30,1.1,38,1.5,46,.9,56,1.3,62,2.0,67,2.8,72,1.8,80,1.2,88,1.9,92,4.3,94,4.75,96,3.2,98,2.4,1,2.0,4,2.1,10,2.0,18,1.7,60,1.6,64,2.4,70,1.6,86,1.4,90,2.0,94,3.0,99,2.2],
  [2,3.2,4,2.5,8,1.8,16,1.1,30,.9,44,1.0,58,1.2,70,1.5,80,1.9,86,2.6,92,2.2,97,1.6,1,2.2,4,2.1,8,1.3,76,1.4,82,1.9,89,2.2,94,1.8],
  [2,2.6,5,3.9,8,2.2,12,1.8,18,1.3,28,.9,40,.7,54,.8,68,1.0,78,1.4,86,1.8,92,2.4,96,2.0,1,1.9,4,2.2,8,2.0,12,1.4,16,1.0,86,1.2,92,1.9,99,1.4],
  [2,2.1,4,3.07,8,1.6,14,1.2,22,.9,30,.7,37,.9,46,.6,56,2.7,66,.8,76,1.1,82,1.8,86,2.8,88,6.0,90,4.4,92,3.5,94,2.9,97,2.2,1,1.4,4,1.8,8,1.3,14,1.2,84,1.7,88,2.4,90,3.8,92,3.0,94,3.5,96,2.5,99,1.6]
];
var seg2016 = [
  [3,1.0,6,1.4,9,1.7,12,1.2,15,.7,18,1.1,22,.4,26,.8,30,2.2,34,.5,38,1.0,42,.3,46,.7,50,1.3,54,.4,58,.9,62,1.5,66,.6,70,.3,74,1.0,80,.5,86,1.2,92,2.0,96,.8,1,.3,8,.3,13,.4,20,.2,28,.4,36,.2,44,.4,48,.2,56,.3,64,.2,72,.4,78,.2,84,.4,90,.3,98,.2],
  [3,1.5,6,.8,10,1.1,14,.5,18,1.3,22,.7,32,.4,36,1.0,40,1.5,44,.6,48,2.0,52,.3,56,1.1,60,.7,64,1.6,68,.4,72,1.2,78,2.0,84,.8,90,1.4,96,.6,2,.3,8,.2,12,.4,16,.2,20,.5,26,.2,30,.5,38,.2,42,.3,46,.2,50,.4,58,.2,66,.3,74,.2,82,.3,88,.2,94,.3],
  [4,1.2,8,.6,12,1.0,16,1.5,20,.4,24,.8,28,.3,32,1.2,36,.5,40,.2,46,.7,52,.4,58,1.0,64,.6,70,1.3,76,.8,82,1.7,87,4.35,90,2.3,94,1.1,98,.6,2,.5,6,.3,10,.4,14,.2,18,.3,22,.2,26,.5,30,.2,34,.4,38,.3,44,.2,50,.4,56,.2,62,.3,68,.2,74,.4,80,.3,86,.5,92,.2,96,.3],
  [4,1.4,8,2.0,12,1.6,16,2.4,19,4.45,22,1.1,26,.6,30,1.3,34,.8,38,1.5,41,2.55,45,.5,49,1.0,53,1.6,57,2.35,61,.7,65,1.2,69,.4,74,2.07,78,.9,82,.3,88,1.2,94,.7,2,.3,6,.5,10,.3,14,.2,20,.4,24,.3,28,.2,32,.4,36,.2,43,.3,47,.2,51,.4,55,.3,59,.2,63,.4,67,.2,72,.3,76,.2,80,.4,86,.3,92,.2,97,.4],
  [4,.8,10,1.2,20,1.5,28,1.85,30,1.1,36,.6,40,.9,46,.4,53,1.8,58,1.0,64,.5,70,.8,74,1.2,78,1.0,83,1.8,87,1.7,92,.6,2,.4,7,.3,14,.3,18,.4,24,.2,26,.5,33,.3,38,.2,43,.5,50,.2,56,.3,61,.4,67,.2,72,.3,80,.4,85,.2,95,.3],
  [4,1.5,8,.9,14,1.3,20,.5,30,1.1,36,1.8,42,.7,48,1.4,54,.4,60,1.0,66,1.6,72,.6,78,1.2,84,.3,90,1.5,96,.8,6,.3,12,.2,18,.4,26,.3,34,.2,46,.3,58,.2,70,.3,82,.2,94,.4],
  [4,1.0,10,1.5,16,.6,22,1.2,28,.4,34,1.8,40,.7,46,1.1,52,.3,58,.9,64,1.5,70,.5,76,1.0,82,1.8,88,.7,94,1.2,2,.3,7,.4,13,.2,19,.5,25,.2,31,.4,37,.2,43,.4,49,.2,55,.5,61,.2,67,.3,73,.2,79,.4,85,.2,91,.3,97,.4],
  [3,1.8,6,1.3,10,.8,14,1.5,18,1.0,22,.5,26,1.2,30,.3,34,.9,38,1.4,42,.6,46,.3,50,1.0,54,.5,58,.8,62,1.6,66,2.1,70,1.2,76,.6,82,.9,88,1.4,94,.7,2,.3,8,.4,12,.2,16,.4,20,.2,24,.4,28,.2,32,.5,36,.2,40,.3,44,.2,48,.4,52,.2,56,.3,64,.2,72,.3,80,.2,86,.3,92,.3],
  [4,1.5,8,1.0,14,1.8,20,.6,26,1.2,32,.4,38,1.6,44,.8,50,.3,56,1.1,62,1.7,68,.6,74,1.2,80,2.0,86,.9,92,1.5,97,.7,1,.3,6,.4,11,.2,17,.5,23,.2,29,.4,35,.2,41,.3,47,.2,53,.4,59,.2,65,.3,71,.2,77,.4,83,.2,89,.3,95,.4],
  [3,2.5,6,1.9,10,1.4,14,.8,20,1.2,26,.5,32,1.0,38,.3,44,.7,50,1.5,56,.4,62,.9,68,.3,74,1.1,80,.6,86,1.3,92,.8,97,1.0,1,.4,8,.3,12,.5,17,.2,23,.4,29,.2,35,.3,41,.2,47,.4,53,.2,59,.3,65,.2,71,.4,77,.3,83,.2,89,.4,95,.3],
  [3,1.2,8,1.6,14,.9,17,1.5,20,2.0,24,1.1,28,.6,34,.9,40,.4,46,.8,52,1.3,56,2.3,62,1.3,68,.5,74,.9,80,1.3,84,2.2,88,1.8,92,1.0,97,.6,2,.4,6,.2,11,.4,17,.3,24,.2,30,.4,36,.2,42,.4,48,.2,60,.3,66,.2,72,.4,78,.3,86,.5,94,.2]
];
var gene2016 = [
  [1,.2,2,.6,2,1.0,3,1.4,3,1.9,4,.3,5,.8,6,1.2,7,.4,8,1.6,9,.2,10,.7,11,1.1,12,.4,14,.2,16,.6,18,.3,22,.5,26,.2,30,2.2,34,.4,40,.2,50,.3,60,.2,70,.4,76,.2,80,.6,82,1.0,83,.3,84,1.3,85,.7,86,.2,88,.9,89,.5,90,1.2,91,.3,92,.8,93,.4,94,1.1,95,.6,96,.2,97,.9,98,.5,99,.2,1,.6,1,1.1,2,.3,2,1.5,3,.1,4,.9,4,1.3,5,.4,5,1.6,6,.2,7,.8,8,1.1,9,.5,10,.2,11,.6,12,.9,13,.2,15,.5,17,.2,20,.4,29,.4,31,.2,44,.3,56,.2,66,.3,78,.3,79,.6,81,.3,83,.8,84,.2,86,.9,87,.5,88,.2,90,.5,91,.9,93,.2,94,.6,95,1.0,96,.4,97,.2,98,.9,99,.6],
  [1,.2,2,.6,3,1.0,3,1.2,4,.3,5,.8,6,.2,8,.5,10,.3,14,.6,18,.2,24,.5,30,.3,36,.8,40,.4,44,.2,50,.6,54,1.0,56,.3,60,.7,64,1.2,66,.4,68,.9,70,1.5,72,.2,74,.7,76,1.1,78,.4,80,1.6,82,.8,84,1.3,85,.3,86,2.0,87,.9,88,1.5,89,.5,90,2.4,91,1.1,92,.3,93,1.8,94,.7,95,2.9,95,2.2,96,1.3,97,.4,98,1.7,99,.9,1,.5,2,.9,3,.4,4,.8,5,.2,6,.6,7,.3,9,.2,12,.4,16,.2,21,.3,27,.2,33,.4,38,.2,42,.6,46,.3,48,.8,52,.3,55,.6,57,1.0,58,.4,61,1.2,62,.3,63,.7,65,.9,67,.2,69,1.2,71,.4,73,1.0,75,.3,77,.8,79,.3,81,1.1,83,.5,84,2.0,86,.5,87,1.5,88,.3,89,1.2,90,.8,91,1.8,92,.7,93,.2,94,1.4,95,.5,96,2.0,97,1.1,98,.3,99,1.4],
  [1,.2,1,.7,2,1.2,2,1.7,2,2.2,3,2.6,3,.4,4,1.0,4,3.0,3,3.65,5,1.5,5,.2,6,2.0,6,.6,7,1.2,8,.3,9,.9,10,1.5,11,.5,12,.2,13,1.0,14,.6,16,.3,20,.7,24,.3,30,.2,40,.3,50,.5,60,.3,66,.6,70,.2,72,.9,74,.4,76,1.2,78,.3,80,.8,81,1.4,82,.4,83,1.8,84,.9,85,.2,86,1.3,87,.6,88,1.0,89,.3,90,1.5,91,.7,92,.2,93,1.1,94,.5,95,1.4,96,.3,97,.8,98,1.2,99,.5,1,1.2,1,1.7,2,.2,2,.5,2,2.6,3,1.0,3,1.8,3,3.2,4,.5,4,1.4,4,2.2,5,.9,5,2.4,6,.3,6,1.5,7,.5,7,1.8,8,1.0,9,.4,9,1.3,10,.2,11,1.1,12,.7,13,.3,15,.6,17,.2,22,.4,28,.2,34,.3,45,.2,55,.2,64,.3,67,.3,69,.7,71,.4,73,.2,75,.6,77,.8,79,.5,80,1.1,82,.9,84,.4,85,1.1,86,.2,87,.9,88,1.3,89,.7,91,1.0,92,.6,94,.9,95,.2,96,1.0,97,.3,98,.8,99,.2],
  [1,.2,1,.7,2,1.2,2,1.8,3,.4,3,2.3,4,1.0,4,1.5,5,.2,5,2.0,6,.6,6,1.3,7,2.5,7,.9,8,.3,8,1.7,9,1.1,9,.5,10,2.2,10,1.4,11,3.3,11,3.7,11,3.9,11,2.6,12,.8,12,.2,13,1.6,14,1.0,15,2.1,16,.4,17,1.2,18,.7,19,4.45,19,1.9,20,.3,21,1.0,22,.6,24,.2,28,.5,34,.3,40,.2,48,.6,52,1.0,54,.3,58,.8,60,1.3,62,.4,64,.2,66,.9,70,.5,74,.2,80,.3,84,.6,86,1.0,87,.3,88,1.4,89,.7,90,1.8,91,2.15,91,1.1,92,.4,93,1.6,94,.9,95,.2,96,1.3,97,.6,98,1.0,99,.3,1,1.0,1,1.5,2,.4,2,2.1,3,.8,3,1.7,4,.2,4,2.5,5,.6,5,1.2,6,.9,6,2.0,7,.3,7,1.6,8,1.1,8,2.1,9,.2,9,1.8,10,.7,11,.5,11,1.7,12,1.2,12,2.3,13,.3,14,1.5,14,.6,15,.2,16,1.0,16,1.7,17,.5,18,1.4,19,.9,20,.6,21,1.5,22,.3,23,.9,25,.4,46,.3,50,.5,53,.2,56,.6,59,.4,62,.9,65,.3,68,.5,85,.3,86,.6,87,1.2,88,.2,89,1.0,90,.3,90,1.4,92,1.2,93,.2,94,1.4,95,.7,96,.4,97,1.1,98,.3,99,.8],
  [1,.2,2,.6,2,1.0,3,1.2,4,.3,5,.8,6,.4,7,1.1,8,.2,9,.6,10,.9,11,.3,12,1.7,13,.5,14,1.0,15,.2,16,.7,18,.4,20,.2,26,.3,40,.2,50,.3,60,.65,70,.2,80,.3,86,.2,88,.6,89,1.0,90,.3,90,1.4,91,.8,91,1.8,92,.4,92,2.2,93,1.2,93,2.65,94,.6,94,1.6,95,.2,96,1.0,97,.5,98,1.3,99,.2,1,.5,2,.3,3,.8,4,.6,5,1.1,6,.2,7,.7,8,.5,9,1.2,10,.4,11,.7,12,.2,12,1.3,13,.9,14,.3,15,.7,16,.3,17,.6,19,.3,22,.2,87,.4,88,.2,89,.7,90,1.1,91,.4,92,1.0,93,.2,94,1.2,95,.8,96,.4,96,1.5,97,.9,98,.6,99,.7],
  [2,.3,3,.8,4,1.2,6,.5,8,1.5,10,.2,12,.9,14,.4,16,1.1,18,.2,20,.7,22,1.3,24,.4,26,.9,28,.2,30,.6,32,1.2,34,.3,36,.8,38,1.4,40,.5,42,1.0,44,.2,46,.7,48,1.2,50,.4,52,1.5,54,.9,56,.3,58,1.8,60,2.5,60,1.1,62,.5,64,.2,66,.9,68,1.4,70,.4,72,1.0,74,.2,76,.7,78,1.2,80,.4,82,.9,84,1.5,86,.3,88,.8,90,1.2,92,.5,94,1.0,96,.3,98,.7,1,.6,3,.2,5,.9,7,.5,9,1.2,11,.3,13,.6,15,1.3,17,.5,19,.9,21,.3,23,1.0,25,.6,27,1.2,29,.4,31,.9,33,.5,35,1.1,37,.2,39,.9,41,.6,43,1.3,45,.4,47,1.0,49,.7,51,.2,53,1.2,55,.6,57,1.0,59,.4,61,1.6,63,.8,65,1.2,67,.4,69,.8,71,1.3,73,.6,75,.3,77,1.0,79,.6,81,1.2,83,.2,85,.8,87,1.1,89,.4,91,.9,93,1.3,95,.6,97,.9,99,.4],
  [1,.2,2,.6,2,1.0,3,1.4,3,1.7,4,.3,5,.8,6,1.2,7,.4,8,.9,9,.2,10,1.1,11,.5,12,.2,14,.7,16,.3,20,.6,24,.2,28,.8,32,.3,36,1.2,38,.5,42,.2,46,.6,50,1.0,54,.3,58,.7,62,.2,66,.5,70,.9,72,.3,74,.6,76,1.1,78,.3,80,1.5,81,.7,82,1.0,83,.3,84,1.8,85,.6,86,1.2,87,2.0,88,.4,89,.9,90,2.4,90,1.4,91,.2,92,1.1,93,.6,94,1.6,95,.3,96,.9,97,1.3,98,.5,99,.2,1,.6,1,1.2,2,.3,3,.9,4,.6,4,1.3,5,.2,6,.7,7,1.0,8,.2,9,.5,10,.8,12,.6,13,.3,15,.4,18,.2,22,.4,26,.5,30,.2,34,.6,40,.3,44,.4,48,.2,52,.6,56,.3,60,.5,64,.3,68,.2,73,.5,75,.3,77,.8,79,.6,80,.2,81,1.2,82,.5,83,1.5,84,.3,85,1.0,86,.5,87,1.4,88,.8,89,1.7,90,.5,91,1.0,92,1.7,93,.3,94,.8,95,1.2,96,.6,97,.2,98,1.0,99,.6],
  [1,.2,1,.7,2,1.2,2,1.7,3,2.2,3,.4,4,1.0,4,2.5,5,1.5,5,.2,6,.6,7,1.1,7,2.0,8,.3,9,.8,10,1.4,11,.4,12,1.8,13,1.0,14,.2,15,.7,16,1.3,17,.4,18,.9,20,.3,22,.6,26,.2,30,.5,36,.3,42,.6,48,.2,54,.4,58,.8,60,1.2,61,.3,62,1.6,63,.7,64,2.0,65,1.1,66,.4,67,2.4,68,1.4,69,.2,70,.9,72,.5,74,.2,78,.4,82,.2,86,.6,88,.3,90,1.0,91,.5,92,1.6,92,2.2,93,.8,93,1.3,94,2.9,94,.3,95,2.5,95,1.8,96,.6,96,1.1,97,2.0,98,.4,99,.9,1,1.2,2,.4,2,2.0,3,1.0,3,1.6,4,.2,4,1.8,5,.7,5,2.2,6,1.3,7,.5,8,.9,8,1.8,9,.2,9,1.5,10,.8,11,1.2,12,.5,13,1.4,14,.6,15,1.1,16,.3,17,.9,18,.4,19,.2,21,.5,24,.3,57,.3,59,.6,60,.2,61,.9,62,.4,63,1.3,64,.6,65,1.6,66,.9,67,.5,68,.3,69,1.0,70,.5,71,.2,87,.3,88,.6,89,.3,89,1.2,90,.5,91,1.3,91,.8,92,.3,92,1.2,93,1.9,94,.8,94,2.2,95,1.2,96,2.0,97,.3,97,1.4,98,1.8,98,.8,99,1.5],
  [1,.2,2,.6,2,1.0,3,1.5,3,2.0,3,2.8,4,.3,4,1.2,5,.7,6,.2,8,.5,10,.3,14,.7,18,.2,24,.5,30,.3,36,.8,40,.2,46,.6,52,.3,58,.5,64,.2,70,.6,74,.3,76,.9,78,.4,80,1.3,81,.7,82,1.8,83,.2,84,1.0,85,2.2,86,.5,87,1.4,88,2.5,89,.8,90,1.6,91,.3,92,1.1,93,.6,94,1.3,95,.2,96,.8,97,.5,98,.2,1,.6,1,1.1,2,.3,2,1.4,3,.4,3,1.0,4,.7,4,1.8,5,.2,5,1.1,6,.6,7,.3,9,.4,12,.2,16,.4,20,.2,27,.3,33,.2,43,.4,49,.2,55,.3,61,.2,67,.3,72,.2,75,.5,77,.2,77,.7,79,1.0,80,.3,81,.9,82,.5,83,1.2,84,.4,85,.9,86,1.6,87,.3,88,1.0,89,1.8,90,.4,91,.9,92,.3,93,1.0,94,.4,96,.3,97,.7],
  [1,.2,1,.7,2,1.2,2,1.8,3,2.3,3,.4,4,1.0,4,1.5,5,.2,5,2.0,6,.6,6,1.3,7,.9,8,.3,8,1.7,9,1.1,10,.5,11,1.4,12,.2,13,.8,14,.4,15,1.0,16,.2,18,.6,22,.3,28,.5,34,.2,40,.4,48,.2,56,.3,64,.2,72,.4,78,.2,84,.5,86,.9,87,.3,88,1.3,89,.6,90,1.8,91,1.0,92,.3,93,1.4,94,.7,95,.2,96,1.1,97,1.6,98,.5,99,.9,1,1.0,1,1.5,2,.4,3,.9,3,1.7,4,.2,4,1.9,5,.7,5,1.2,6,.2,6,1.7,7,.5,7,1.3,8,1.0,9,.3,9,1.6,10,.9,11,.2,11,.7,12,1.1,13,.4,14,.8,15,.3,17,.4,20,.3,25,.2,31,.3,44,.3,52,.2,60,.3,68,.2,75,.3,81,.2,85,.3,86,.6,87,1.1,88,.2,89,1.0,90,.4,91,1.4,92,.7,93,.9,94,1.2,95,.6,96,.3,97,1.2,98,.9,99,.3],
  [1,.2,2,.6,2,1.0,3,1.5,3,2.07,3,2.3,4,.3,5,.8,6,1.2,7,.4,8,.2,9,.7,10,1.0,11,.3,12,.6,14,1.0,16,.2,18,.7,20,.4,24,.2,30,.3,40,.2,48,.4,56,2.3,60,.2,68,.3,76,.2,80,.5,82,.9,83,.3,84,1.3,85,.7,86,1.8,87,.4,88,2.2,88,1.1,89,.6,89,2.7,90,1.5,90,3.2,90,.3,91,2.0,91,3.6,91,1.0,92,3.9,92,2.5,92,.5,93,1.3,93,3.0,93,.2,94,1.8,94,2.4,95,.7,95,1.2,96,.3,96,1.6,97,.9,98,.4,99,1.1,1,.6,1,1.2,2,.3,2,1.4,3,.9,4,.6,4,1.3,5,.3,5,1.1,6,.7,7,.9,8,.6,9,.3,10,.5,11,.8,12,.3,13,.6,15,.4,17,.5,19,.2,22,.3,82,.3,83,.7,84,.5,85,.2,85,1.0,86,.6,87,1.0,87,1.6,88,.5,88,1.5,89,1.8,89,.2,90,1.0,90,2.4,91,.5,91,1.4,91,2.9,92,1.0,92,1.8,93,.8,93,2.2,94,.5,94,1.2,95,.2,95,1.9,96,.9,96,1.2,97,.4,97,1.6,98,1.0,99,.7,99,.3]
];

var singleJoint = [
  [2,2.3,4,2.55,6,2.2,9,1.7,13,1.3,18,1.0,26,.8,36,.7,46,.6,56,1.0,64,1.3,72,1.5,80,1.9,84,2.4,88,2.9,92,2.2,96,1.7,1,1.6,5,1.8,10,1.4,16,.9,74,1.3,82,1.4,90,2.0,95,1.5,99,1.1],
  [2,3.5,3,4.8,5,3.0,8,2.4,12,1.8,18,1.5,26,1.6,34,1.3,42,1.9,48,2.5,54,3.8,56,2.9,62,2.0,70,1.6,78,1.9,86,2.3,91,3.2,96,2.2,99,1.8,1,2.2,6,2.0,10,1.9,16,1.3,22,1.2,30,1.4,38,1.5,46,1.7,52,2.1,60,1.8,66,1.5,74,1.7,82,1.6,94,1.6],
  [2,2.5,5,2.1,8,1.6,14,1.2,24,.8,36,.6,50,.7,62,1.0,72,1.3,82,1.6,90,2.2,96,1.8,1,1.7,4,1.8,8,1.2,12,1.0,66,1.2,76,1.3,86,1.4,94,1.8,99,1.3],
  [3,3.1,5,3.8,8,3.5,11,3.2,14,2.7,18,2.2,24,1.8,32,1.5,42,1.3,52,1.1,62,1.0,72,1.3,82,1.8,88,2.6,90,3.7,93,3.3,97,2.4,1,2.4,10,2.7,16,2.5,20,2.0,28,1.7,36,1.2,86,2.4,92,3.0,95,2.6,99,1.9],
  [3,1.5,7,1.8,12,1.3,20,1.0,30,.8,42,.7,54,.9,64,1.2,74,1.0,84,1.3,90,1.9,94,2.5,97,2.2,1,1.3,5,1.4,10,1.3,16,1.2,24,1.1,88,1.4,92,2.1,97,2.5,99,2.0],
  [4,2.8,8,2.4,14,1.7,22,1.4,30,1.2,40,1.5,50,1.3,60,1.7,70,2.0,76,2.6,80,3.2,86,2.2,94,1.8,1,2.0,12,1.7,26,1.5,36,1.6,46,1.6,56,1.5,66,1.7,72,2.3,84,2.0,90,1.5,98,1.3],
  [3,2.8,6,2.5,10,2.2,14,1.8,20,1.4,30,1.0,44,.9,56,1.0,66,1.3,76,1.6,84,2.2,88,2.8,92,2.5,97,1.8,1,2.4,4,2.5,8,2.1,12,1.8,16,1.3,78,1.4,86,2.3,92,2.2,99,1.6],
  [3,2.3,7,4.2,7,2.6,12,3.0,18,4.57,20,2.2,24,1.7,30,1.2,40,.9,50,.8,60,1.0,66,1.5,71,3.75,71,2.0,76,1.4,84,1.6,88,2.2,92,5.35,92,5.0,90,4.0,95,3.2,98,2.4,1,2.2,4,2.8,8,2.2,14,2.3,22,2.0,28,1.5,64,1.4,74,1.6,88,2.6,94,2.8,99,1.7],
  [2,3.0,5,4.2,8,2.2,14,1.5,20,1.2,25,1.95,32,1.4,40,1.0,50,1.2,60,1.75,68,1.5,76,2.0,84,2.4,89,2.7,94,2.0,98,1.6,1,2.0,4,2.4,8,1.7,12,1.2,30,1.1,38,1.5,72,1.6,80,1.8,86,2.4,92,2.2,99,1.5],
  [2,2.3,5,2.7,8,2.2,12,1.8,18,1.4,26,1.0,36,.8,48,.7,60,.9,72,1.1,82,1.6,88,2.1,93,2.6,97,2.0,1,1.9,4,2.2,10,1.6,16,1.4,22,1.2,86,1.3,90,2.2,96,2.0,99,1.5],
  [2,2.6,5,2.8,8,2.3,12,1.8,18,1.3,28,1.0,38,.8,50,1.1,57,4.8,64,1.0,72,1.2,80,1.6,86,2.2,90,2.8,94,3.4,97,4.0,99,2.5,1,2.3,4,2.2,8,2.1,12,1.9,18,1.3,84,1.4,90,2.0,94,2.1,99,1.8]
];
var segJoint = [
  [3,1.0,6,1.5,9,1.2,12,1.6,15,.8,18,1.1,22,.5,26,.9,30,.4,34,1.2,38,.6,42,1.6,46,.3,50,.8,54,.4,58,1.2,60,2.1,65,2.3,68,1.0,72,.5,76,1.4,82,.8,90,1.2,96,.6,1,.4,6,.3,10,.2,14,.4,20,.2,24,.4,28,.2,32,.3,36,.2,40,.4,44,.2,48,.3,52,.2,56,.4,62,.3,70,.2,78,.3,86,.2,94,.3],
  [3,2.0,6,1.4,10,1.0,14,.6,18,1.2,22,.4,30,.8,34,1.4,38,.6,42,1.8,46,1.1,50,.5,54,1.5,58,.9,62,1.3,66,.4,70,1.0,76,1.6,82,.7,88,1.2,94,.5,1,.4,8,.3,12,.2,16,.5,20,.2,26,.3,32,.2,36,.4,40,.2,44,.3,48,.2,52,.4,56,.2,60,.3,64,.2,68,.4,72,.2,80,.3,86,.2,92,.4,98,.2],
  [4,1.3,8,.8,12,1.1,16,.4,20,.9,24,1.4,28,.3,32,.8,36,1.2,40,.5,46,1.0,52,.3,58,.7,64,1.1,70,.4,76,.9,82,1.3,88,3.95,92,.8,97,1.2,2,.4,6,.3,10,.2,14,.5,18,.2,22,.3,26,.2,30,.5,34,.2,38,.3,42,.2,48,.4,54,.2,60,.3,66,.2,72,.4,78,.2,84,.3,90,.2,95,.4],
  [3,2.0,6,2.5,10,1.8,14,1.3,18,2.2,22,.8,26,1.5,30,.5,34,1.9,38,.9,42,1.4,46,.4,50,2.2,54,.8,58,1.2,62,.5,66,1.7,70,.9,74,.3,78,1.1,84,.6,90,1.5,96,.9,1,.4,8,.3,12,.5,16,.2,20,.4,24,.2,28,.3,32,.2,36,.4,40,.2,44,.3,48,.2,52,.4,56,.3,60,.2,64,.4,68,.2,72,.3,76,.2,80,.4,86,.2,92,.3],
  [4,.8,8,1.3,12,.6,18,1.1,24,1.8,30,.7,36,1.2,42,.4,48,1.6,54,.9,60,2.3,66,1.3,72,2.8,76,.7,80,1.5,85,2.9,90,1.0,96,.6,2,.4,6,.3,14,.2,20,.4,28,.2,34,.3,40,.2,46,.4,52,.3,58,.2,64,.4,70,.2,78,.3,82,.2,88,.4,94,.2],
  [4,1.8,8,2.4,11,3.3,14,1.3,20,.7,26,1.2,32,.5,38,1.5,44,.8,50,1.3,56,.4,62,1.0,68,1.6,74,2.4,80,1.2,86,.6,92,1.4,2,.3,10,.2,18,.4,28,.2,36,.3,46,.2,58,.4,66,.2,78,.3,90,.2,96,.4],
  [4,1.5,8,1.0,14,1.8,20,.7,26,1.3,32,.5,36,1.6,44,.9,48,2.0,52,.5,58,1.1,64,.4,70,1.4,76,.8,82,1.8,88,1.2,94,.7,2,.3,7,.4,12,.2,17,.4,23,.2,29,.4,35,.2,41,.3,46,.2,52,.4,56,.2,62,.3,68,.2,74,.3,80,.2,86,.4,92,.3,98,.2],
  [3,1.6,7,1.0,12,1.3,16,.7,20,1.8,24.5,2.8,28,.6,31,1.4,34,.4,36,1.2,40,.8,45,1.75,49,1.3,52,.5,56,.3,60,.8,64,.4,68,1.0,74,.6,81,2.1,86,1.1,89,3.4,92,4.35,96,1.5,2,.4,6,.3,10,.5,14,.2,18,.4,22,.2,26,.3,30,.2,34,.3,38,.2,42,.4,46,.2,50,.3,54,.2,58,.4,62,.2,66,.3,70,.2,78,.4,84,.2,90,.3],
  [3,2.65,3,2.1,8,1.0,12,1.4,16,.6,22,1.2,28,.4,34,1.0,40,.7,46,1.4,50,4.2,54,.5,58,1.2,64,.8,71,2.6,76,1.0,82,1.5,89,2.8,89,2.5,94,1.2,98,.8,2,.4,6,.2,10,.5,14,.2,18,.4,24,.3,30,.2,36,.4,42,.2,48,.3,52,.2,56,.4,62,.2,66,.3,74,.2,80,.4,86,.3,92,.2,96,.4],
  [3,1.5,7,2.0,12,1.2,16,.6,20,3.5,24,1.0,30,.4,36,1.3,42,.7,48,1.8,54,.5,60,1.1,66,.4,72,1.4,78,.8,84,1.6,90,1.0,96,1.3,1,.4,5,.2,10,.4,14,.3,18,.2,22,.5,27,.2,33,.4,39,.2,45,.3,51,.2,57,.4,63,.2,69,.3,75,.2,81,.4,87,.2,93,.3,99,.4],
  [3,2.0,6,1.6,10,2.1,17,2.5,22,1.3,26,.6,32,1.0,38,.4,44,.8,50,1.2,57,4.65,62,.8,70,2.3,76,.5,82,.9,88,1.3,94,.7,1,.4,6,.3,12,.4,17,.2,22,.4,28,.2,34,.3,40,.2,46,.4,52,.2,56,.3,64,.2,68,.4,74,.2,80,.3,86,.2,92,.4,98,.2]
];
var geneJoint = [
  [1,.2,2,.6,2,1.0,3,1.5,4,.3,5,.8,6,1.2,7,.4,8,.2,9,.7,10,1.0,11,.3,12,.6,14,.2,16,.5,20,.3,26,.2,34,.4,44,.2,54,.3,60,.2,66,.5,70,.2,74,.6,76,1.0,77,.3,78,.8,80,1.3,81,.5,82,.2,83,1.0,84,1.8,85,.6,86,2.2,86,1.3,87,.3,88,2.9,88,2.5,89,.9,90,1.6,91,.4,92,1.1,93,.2,94,.8,95,1.3,96,.4,97,1.0,98,.6,99,.2,1,.6,1,1.2,2,.3,3,1.0,4,.6,4,1.3,5,.2,6,.9,7,1.1,8,.6,9,.3,10,.5,11,.9,13,.4,15,.6,18,.3,23,.2,30,.3,40,.2,50,.3,64,.2,72,.4,73,.2,75,.8,77,1.0,79,.4,80,.8,81,1.1,82,.6,83,.3,84,1.2,85,.2,86,.8,87,1.7,88,.4,89,1.3,90,.6,91,1.1,92,.2,93,.7,94,1.2,95,.2,96,1.0,97,.6,98,.3,99,.7],
  [1,.2,1,.7,2,1.2,2,1.8,3,2.4,3,3.0,3,.4,4,1.0,4,2.0,5,1.5,5,.2,6,.6,7,1.1,8,.3,9,.9,10,1.4,11,.5,12,.2,14,1.0,16,.6,18,1.3,20,.3,22,.8,24,1.6,26,.4,28,1.1,30,.2,32,.7,34,1.5,36,.3,38,1.0,40,.5,42,1.8,44,.2,46,.9,48,1.4,50,2.3,50,3.4,52,.6,54,1.8,56,1.1,58,.3,60,1.5,62,.7,64,2.0,66,.4,68,1.2,70,.2,72,.8,74,1.6,76,.4,78,1.0,80,.2,82,1.4,84,.6,86,1.1,88,.3,90,2.3,90,1.6,92,.8,94,1.2,96,.4,98,1.0,1,1.2,2,.4,2,2.1,3,.9,3,1.6,4,.2,4,2.6,5,.8,5,1.1,6,1.6,7,.4,8,.8,9,1.2,10,.3,11,.9,12,1.2,13,.5,15,.3,15,1.2,17,.8,19,.5,21,1.1,23,.3,25,.9,27,.5,29,.2,31,1.1,33,.4,35,1.0,37,.6,39,.3,41,1.2,43,.6,45,.2,47,1.1,49,.4,51,1.4,53,.3,55,.8,57,.5,59,1.0,61,.2,63,.9,65,1.4,67,.6,69,.3,71,1.2,73,.4,75,1.0,77,.6,79,1.3,81,.4,83,.9,85,1.6,87,.5,89,1.0,91,.3,93,1.5,95,.6,97,.3,99,.8],
  [1,.2,2,.6,2,1.0,3,1.5,3,2.0,4,.3,5,.8,6,1.2,7,.4,8,.2,9,.7,10,1.0,12,.3,14,.6,18,.2,24,.5,30,.3,40,.2,50,.4,56,.2,62,.5,66,.9,68,.3,70,1.2,72,.6,74,.2,76,.9,78,1.4,80,.4,82,.8,84,1.1,86,.3,88,.7,90,1.0,92,.4,94,1.5,95,.8,96,.2,97,1.2,98,.5,99,.9,1,.6,1,1.2,2,.3,2,1.6,3,.9,4,.6,4,1.3,5,.2,6,.8,7,.9,8,.5,9,.2,11,.5,13,.2,16,.4,21,.2,27,.3,35,.2,45,.3,53,.2,60,.3,63,.2,64,.6,65,.3,67,.6,69,.2,71,.8,73,.3,75,.5,77,1.1,79,.2,81,.6,83,.3,85,.8,87,1.0,89,.4,91,.7,93,1.2,94,.3,96,.7,98,1.1,99,.3],
  [1,.2,1,.7,2,1.2,2,1.8,2,2.5,3,.4,3,3.0,4,1.0,4,2.2,5,1.5,5,3.7,6,.2,6,2.8,7,.6,7,1.9,8,1.2,8,3.3,9,.3,9,2.4,10,.9,10,1.6,11,2.1,12,.5,12,1.3,13,2.7,14,.2,14,1.0,15,1.8,16,.6,17,1.4,18,.3,19,2.0,20,.9,21,1.2,22,.4,23,.8,24,1.5,25,.2,26,.7,27,1.1,28,.4,29,1.7,30,.2,32,.6,36,.3,42,.5,48,.2,56,.4,64,.3,72,.5,78,.2,82,.6,84,1.0,85,.3,86,1.4,87,.7,88,2.0,88,2.6,89,1.2,89,3.3,90,3.9,90,.4,91,1.7,91,2.9,92,.8,92,2.3,93,1.3,93,.2,94,1.9,95,.6,96,1.1,97,.3,98,.8,99,1.4,1,1.2,2,.4,2,1.5,3,.8,3,2.3,4,.2,4,1.6,5,.7,5,2.6,6,1.4,6,2.0,7,.3,7,1.2,7,2.4,8,.6,8,1.8,9,1.1,9,2.9,10,.3,10,2.0,11,.9,11,1.5,12,.2,12,2.4,13,.8,13,1.6,14,.5,14,2.2,15,1.2,16,.3,16,1.7,17,.8,18,1.2,18,2.2,19,.5,20,1.5,21,.3,22,1.0,23,.4,24,.9,25,.6,26,1.3,27,.3,28,.9,29,.6,31,.4,33,.2,84,.3,85,.8,86,.3,86,2.0,87,1.2,88,.5,88,1.6,89,.9,89,2.3,90,1.3,90,2.7,91,.6,92,1.6,93,.8,93,2.5,94,.3,94,1.3,95,1.0,96,.4,96,1.7,97,.8,98,1.2,99,.5],
  [1,.2,2,.6,2,1.0,3,1.3,4,.3,5,.8,6,.2,7,.5,8,1.1,9,.4,10,.8,12,.2,14,.6,16,1.0,18,.3,20,.7,22,.2,24,.5,26,.3,30,.6,36,.2,46,.4,56,.2,66,.3,76,.2,84,.5,88,.3,90,.7,91,1.0,92,.4,93,1.4,94,.8,95,1.8,96,.3,96,1.2,97,2.2,97,.6,98,2.6,98,1.5,99,.9,1,.6,1,1.0,2,.3,3,.8,4,.6,4,1.1,5,.4,6,.9,7,1.0,8,.3,9,.9,10,.4,11,1.1,12,.6,13,.2,14,1.0,15,.5,17,.7,19,.3,21,.5,23,.8,25,.2,27,.5,33,.3,40,.2,52,.3,62,.2,72,.4,80,.2,86,.3,89,.6,90,1.1,91,.3,92,1.6,93,.7,94,1.2,95,.4,95,1.3,96,2.0,97,.9,98,.3,99,1.6],
  [2,.3,3,.8,4,1.2,5,1.6,6,.4,8,2.1,8,1.0,10,.2,12,.7,14,1.3,16,.3,18,.9,20,.5,22,1.1,24,.2,26,.7,28,1.2,30,.4,32,.9,34,1.4,36,.3,38,.8,40,1.2,42,.5,44,.2,46,1.0,48,1.5,50,.4,52,.9,54,1.3,56,.3,58,.8,60,1.4,62,.5,64,1.0,66,.2,68,.7,70,1.3,72,1.8,74,.5,76,1.1,78,2.3,80,2.9,80,1.6,82,.4,84,.9,86,1.4,88,.3,90,.8,92,1.2,94,.5,96,.9,98,.3,1,.6,3,.2,5,.9,7,.5,9,1.3,11,.3,13,.9,15,.5,17,1.2,19,.3,21,.8,23,1.4,25,.4,27,1.0,29,.6,31,.2,33,1.1,35,.6,37,1.0,39,.4,41,.8,43,1.3,45,.6,47,.2,49,.9,51,1.2,53,.5,55,1.0,57,.2,59,1.1,61,.7,63,.3,65,1.3,67,.8,69,.4,71,1.0,73,.3,75,1.4,77,.7,79,1.2,81,.6,83,1.1,85,.3,87,1.0,89,.6,91,.3,93,.9,95,1.3,97,.6,99,.4],
  [1,.2,1,.7,2,1.2,2,1.7,3,2.2,3,.4,4,2.9,4,1.0,5,1.5,5,.2,6,.6,7,2.0,7,1.1,8,.3,9,.8,10,1.4,11,.4,12,1.8,13,.9,14,.2,16,.6,18,1.1,20,.3,24,.6,28,.2,34,.4,40,.2,46,.5,52,.3,58,.6,62,.2,66,.5,70,.9,72,.3,74,.7,76,1.2,78,.4,80,1.0,81,1.6,82,.5,83,2.0,84,.8,85,1.3,86,.2,87,2.4,88,2.8,88,1.1,89,.5,90,1.7,91,.9,92,.3,93,1.4,94,2.0,95,.7,96,1.1,97,.4,98,1.5,99,.8,1,1.2,2,.4,2,2.0,3,1.0,3,1.5,4,.2,4,2.0,5,.8,5,2.4,6,1.3,7,.5,8,1.0,8,1.6,9,.2,10,.8,11,1.2,12,.5,13,1.3,14,.6,15,.9,17,.3,19,.7,22,.2,26,.4,31,.2,37,.3,43,.2,49,.3,55,.2,60,.4,64,.3,68,.2,73,.3,75,.5,77,.8,79,.2,80,1.4,81,.6,82,1.2,83,.3,84,1.6,85,.8,86,1.8,87,.5,87,1.2,88,2.0,89,1.3,90,.5,91,1.8,92,1.1,93,.6,94,1.3,95,.2,96,1.6,97,1.0,98,.3,99,1.2],
  [1,.2,1,.7,2,1.2,2,1.7,3,.4,3,2.1,4,1.0,4,1.5,5,.2,5,2.0,6,.6,7,1.2,7,2.5,8,.3,8,1.8,9,.9,10,1.4,11,.4,12,2.0,12,1.1,13,.2,14,.7,15,1.5,16,3.4,16,.4,17,1.1,18,1.9,18,.2,19,.8,20,1.4,21,2.7,22,.5,23,1.0,24,2.7,24,1.7,25,.3,26,.8,27,1.2,28,.4,30,.7,32,.2,36,.5,40,.3,44,.6,48,.8,50,.2,54,.4,58,.2,60,.6,62,1.0,63,.3,64,1.4,65,.7,66,.2,68,1.1,70,.5,72,1.4,73,.9,74,.3,76,1.2,78,.6,80,.2,84,.4,86,.8,87,.3,88,1.2,89,.6,89,1.8,90,2.3,90,1.0,91,.4,91,3.0,91,2.6,92,3.5,92,3.8,92,4.7,92,1.5,93,2.0,93,.7,94,2.5,94,1.2,95,.3,95,1.8,96,.9,97,1.4,98,.5,99,1.0,1,1.2,2,.4,2,2.2,3,1.0,3,1.6,4,.2,4,2.4,5,.8,5,1.3,6,1.8,6,.3,7,.9,8,1.4,9,.4,9,2.0,10,.9,10,2.2,11,1.3,12,.6,13,1.2,13,1.9,14,.3,14,1.6,15,.7,16,1.3,17,.5,17,2.3,18,1.2,19,.4,20,.8,20,2.0,21,1.1,22,1.5,23,.4,24,1.0,25,.6,26,1.3,27,.3,29,.5,31,.2,59,.4,61,.3,62,.6,64,.8,66,.5,67,1.0,69,.3,70,.9,71,1.3,73,.4,75,.8,77,.3,79,.9,81,.4,86,.3,87,.7,88,.4,88,1.6,89,1.1,89,2.4,90,.6,90,1.6,91,1.2,91,1.9,92,.3,92,2.5,93,1.5,94,.8,94,1.8,95,1.0,95,2.3,96,.4,96,1.4,97,.8,98,1.1,99,.4],
  [1,.2,2,.6,2,1.0,3,1.4,3,1.8,4,3.9,4,.3,5,.8,6,1.2,7,.4,8,.2,9,.7,10,1.1,12,.3,14,.6,18,.2,22,.5,25,1.7,26,.9,28,.3,30,.6,32,1.0,34,.2,37,1.95,36,.8,38,1.3,40,.4,42,.8,46,.3,50,.6,54,.2,58,.5,62,.8,66,.3,70,.9,71,2.65,72,1.4,73,.5,74,1.0,75,.2,76,.7,78,1.3,79,1.8,80,.4,82,1.0,83,.6,84,1.5,85,.3,86,2.0,87,1.1,88,.5,89,3.25,89,1.6,90,.8,91,1.3,92,2.3,93,.4,94,1.0,95,1.6,96,.3,97,.9,98,1.2,99,.5,1,.6,1,1.2,2,.3,2,1.5,3,.9,4,.6,4,1.4,5,.3,5,1.1,6,.7,7,.9,8,.5,9,.3,11,.5,13,.2,16,.4,20,.3,24,.5,27,.2,29,.9,31,.4,33,.7,35,.2,39,.6,41,.3,44,.5,48,.2,52,.4,56,.6,60,.2,64,.5,67,.3,69,.6,70,1.2,72,.8,74,.3,75,1.3,77,.5,78,.9,80,1.1,81,.3,82,1.5,84,.8,85,1.1,86,.4,87,1.6,88,.9,88,1.4,90,1.3,90,.2,91,.6,92,1.0,93,1.6,94,.3,95,1.2,96,.6,97,1.4,98,.3,99,1.0],
  [1,.2,1,.7,2,1.2,2,1.6,3,2.0,3,.4,4,1.0,5,.2,5,1.4,6,.6,7,1.8,8,.3,8,1.1,9,.8,10,1.5,11,.4,12,1.0,13,.2,14,.7,15,1.3,16,.3,17,.9,18,.5,19,1.2,20,3.5,20,.2,21,.8,22,.4,24,1.0,26,.2,30,.5,36,.2,42,.4,50,.3,58,.5,64,.2,72,.4,78,.2,84,.6,86,1.0,87,.3,88,1.4,89,.7,90,1.9,91,1.1,92,2.5,92,.4,93,1.5,94,.8,95,1.2,96,.2,97,.9,98,1.6,99,.5,1,1.0,1,1.4,2,.4,2,1.8,3,.8,3,1.4,4,.2,4,1.7,5,.7,6,1.0,6,1.5,7,.3,7,1.2,8,.7,9,1.1,9,.4,10,.9,11,1.2,12,.6,13,.3,14,1.0,15,.5,16,1.1,17,.4,18,1.0,19,.3,20,.8,21,.4,23,.6,25,.3,28,.3,33,.2,39,.3,47,.2,55,.2,62,.3,68,.2,75,.3,81,.2,85,.4,86,.2,87,.9,88,.5,89,1.2,90,.3,90,1.3,91,.6,92,1.8,93,.8,94,.3,94,1.5,95,.8,96,1.4,97,.3,98,1.1,99,.2],
  [1,.2,1,.7,2,1.2,2,1.7,3,2.3,3,.4,4,3.0,4,1.0,5,1.5,5,.2,6,.6,7,2.0,7,1.1,8,.3,9,.8,10,1.4,11,.4,12,2.5,12,1.0,13,.2,14,.7,15,1.3,16,.3,17,.9,18,.5,20,.2,24,.6,28,.3,34,.5,40,.2,46,.4,52,.2,57,4.65,60,.3,66,.2,72,.4,78,.2,82,.5,84,.9,85,.3,86,1.3,87,.6,88,1.8,89,1.0,90,.3,91,1.5,92,.7,93,2.4,93,1.2,94,.4,95,1.9,96,.9,97,1.4,98,.3,99,.8,1,1.1,1,1.6,2,.4,2,2.0,3,.9,3,1.4,4,.2,4,1.6,4,2.5,5,.7,5,1.9,6,1.2,6,.3,7,1.5,8,.6,8,1.2,9,.3,9,1.1,10,.7,11,1.1,12,.5,13,.8,14,1.2,15,.4,16,.8,17,.2,19,.4,21,.3,82,.2,83,.6,84,.4,85,.8,86,.5,87,1.0,88,.3,88,1.2,89,.6,90,1.0,91,.3,91,1.8,92,1.2,93,.6,94,1.5,95,.3,95,1.3,96,.5,97,.8,98,1.0,99,.4]
];

// segment-based tests drawn without fill: year index, chromosome index, position, value
var segOpen = [[0,4,60,2.45],[1,4,60,1.5],[1,8,78,2.6],[2,1,28,2.45],[2,5,23,1.5],[3,1,26,2.1],[3,6,40,2.1]];

var singleData = [single2014, single2015, single2016, singleJoint];
var segData = [seg2014, seg2015, seg2016, segJoint];
var geneData = [gene2014, gene2015, gene2016, geneJoint];

function pairs(flat) {
  var out = [];
  for (var i = 0; i < flat.length; i += 2) out.push([flat[i], flat[i + 1]]);
  return out;
}

// layout
var plotLeft = 117.3, plotRight = 1251.3, gap = 4.7;
var rowTop = 67.5, rowBottom = 650.6;
var stripH = 20, stripW = 20;

var unit = (plotRight - plotLeft - gap * (chromosomes.length - 1)) / d3.sum(chrSize);
var panelX = [], panelW = [];
var cx = plotLeft;
chrSize.forEach(function(s) {
  panelX.push(cx);
  panelW.push(s * unit);
  cx += s * unit + gap;
});

var rowBand = d3.scaleBand().domain(years).range([rowTop, rowBottom]).paddingInner(0.04);
var ph = rowBand.bandwidth();
var yScale = d3.scaleLinear().domain([-0.25, 6.31]).range([ph, 0]);

var svg = d3.select("body").append("svg")
    .attr("width", W)
    .attr("height", H);

// figure frame
svg.append("rect")
    .attr("x", 8.5).attr("y", 8.5)
    .attr("width", 1344.5).attr("height", H + 20)
    .attr("fill", "none")
    .attr("stroke", "#555")
    .attr("stroke-width", 1.5);

svg.append("text")
    .attr("x", (plotLeft + plotRight) / 2)
    .attr("y", 39.5)
    .attr("text-anchor", "middle")
    .attr("font-weight", "bold")
    .attr("font-size", "18px")
    .attr("fill", "#111")
    .text("Yield - Irrigated");

var threshColor = ["#222", "#b0b0b0", "#ff2d2d"];
var tri = d3.symbol().type(d3.symbolTriangle).size(36);

years.forEach(function(yr, ri) {
  var py = rowBand(yr);

  chromosomes.forEach(function(chr, ci) {
    var pw = panelW[ci];
    var xScale = d3.scaleLinear().domain([-3, 103]).range([0, pw]);
    var g = svg.append("g").attr("transform", "translate(" + panelX[ci] + "," + py + ")");
    var clipId = "clip-" + ri + "-" + ci;

    g.append("clipPath").attr("id", clipId)
      .append("rect").attr("width", pw).attr("height", ph);

    g.append("rect").attr("width", pw).attr("height", ph).attr("fill", "#fff");

    // grid
    g.selectAll(".hgrid")
      .data(d3.range(0, 7))
      .enter().append("line")
      .attr("x1", 0).attr("x2", pw)
      .attr("y1", function(d) { return yScale(d); })
      .attr("y2", function(d) { return yScale(d); })
      .attr("stroke", function(d) { return d % 2 ? "#f4f4f4" : "#ebebeb"; })
      .attr("stroke-width", function(d) { return d % 2 ? 0.6 : 1.1; });
    g.selectAll(".vgrid")
      .data(d3.range(16, pw - 2, 19.3))
      .enter().append("line")
      .attr("x1", function(d) { return d; }).attr("x2", function(d) { return d; })
      .attr("y1", 0).attr("y2", ph)
      .attr("stroke", "#efefef")
      .attr("stroke-width", 0.9);

    // thresholds
    g.selectAll(".thr")
      .data(thresholds)
      .enter().append("line")
      .attr("x1", 0).attr("x2", pw)
      .attr("y1", function(d) { return yScale(d); })
      .attr("y2", function(d) { return yScale(d); })
      .attr("stroke", function(d, i) { return threshColor[i]; })
      .attr("stroke-width", 1.1)
      .attr("stroke-dasharray", "4,3.5");

    var pts = g.append("g").attr("clip-path", "url(#" + clipId + ")");

    pts.selectAll(".single")
      .data(pairs(singleData[ri][ci]))
      .enter().append("circle")
      .attr("cx", function(d) { return xScale(d[0]); })
      .attr("cy", function(d) { return yScale(d[1]); })
      .attr("r", 3.9)
      .attr("fill", "#a8a8a8");

    pts.selectAll(".seg")
      .data(pairs(segData[ri][ci]))
      .enter().append("path")
      .attr("d", tri)
      .attr("transform", function(d) { return "translate(" + xScale(d[0]) + "," + yScale(d[1]) + ")"; })
      .attr("fill", "#a4a4a4")
      .attr("stroke", "#ff2a1a")
      .attr("stroke-width", 1);

    pts.selectAll(".segopen")
      .data(segOpen.filter(function(d) { return d[0] === ri && d[1] === ci; }))
      .enter().append("path")
      .attr("d", tri)
      .attr("transform", function(d) { return "translate(" + xScale(d[2]) + "," + yScale(d[3]) + ")"; })
      .attr("fill", "#fff")
      .attr("stroke", "#ff2a1a")
      .attr("stroke-width", 1);

    pts.selectAll(".gene")
      .data(pairs(geneData[ri][ci]))
      .enter().append("circle")
      .attr("cx", function(d) { return xScale(d[0]); })
      .attr("cy", function(d) { return yScale(d[1]); })
      .attr("r", 3)
      .attr("fill", "#000");

    g.append("rect").attr("width", pw).attr("height", ph)
      .attr("fill", "none").attr("stroke", "#9a9a9a").attr("stroke-width", 1.1);

    // column strip
    if (ri === 0) {
      var sg = svg.append("g").attr("transform", "translate(" + panelX[ci] + "," + (rowTop - stripH) + ")");
      sg.append("rect").attr("width", pw).attr("height", stripH)
        .attr("fill", "#d9d9d9").attr("stroke", "#9a9a9a").attr("stroke-width", 1.1);
      sg.append("text").attr("x", pw / 2).attr("y", stripH / 2 + 5)
        .attr("text-anchor", "middle").attr("font-weight", "bold")
        .attr("font-size", "14px").attr("fill", "#1a1a1a").text(chr);
    }
  });

  // row strip
  var rg = svg.append("g").attr("transform", "translate(" + (plotRight + 1) + "," + py + ")");
  rg.append("rect").attr("width", stripW).attr("height", ph)
    .attr("fill", "#d9d9d9").attr("stroke", "#9a9a9a").attr("stroke-width", 1.1);
  rg.append("text")
    .attr("transform", "translate(" + (stripW / 2 - 5) + "," + (ph / 2) + ") rotate(90)")
    .attr("text-anchor", "middle").attr("font-weight", "bold")
    .attr("font-size", "14px").attr("fill", "#1a1a1a").text(yr);

  // y axis
  var yAxis = d3.axisLeft(yScale).tickValues(yTicks).tickFormat(d3.format("d")).tickSize(3.5).tickPadding(3);
  var ag = svg.append("g")
    .attr("transform", "translate(" + plotLeft + "," + py + ")")
    .call(yAxis);
  ag.select(".domain").remove();
  ag.selectAll(".tick line").attr("stroke", "#333");
  ag.selectAll(".tick text").attr("fill", "#4d4d4d").attr("font-size", "14px")
    .attr("font-family", "Liberation Sans, Arial, sans-serif");
});

// axis titles
var yl = svg.append("text")
    .attr("transform", "translate(99," + ((rowTop + rowBottom) / 2) + ") rotate(-90)")
    .attr("text-anchor", "middle")
    .attr("font-size", "16px")
    .attr("fill", "#111");
yl.append("tspan").text("\u2212log");
yl.append("tspan").attr("font-size", "11px").attr("dy", 4).text("10");
yl.append("tspan").attr("dy", -4).text("(p)");

svg.append("text")
    .attr("x", (plotLeft + plotRight) / 2)
    .attr("y", 667.5)
    .attr("text-anchor", "middle")
    .attr("font-weight", "bold")
    .attr("font-size", "16.5px")
    .attr("fill", "#111")
    .text("Chromosome");

// caption
var capLines = [
  { y: 723, len: 1204, bold: "FIGURE 6 | ", text: "Manhattan plot of the associations for GY, under irrigation, using a single-based GWAS (gray circle), segment-based GWAS (red triangle), and" },
  { y: 747, len: 1327, bold: "", text: "gene-based GWAS (black circle) based on the role set of experimental data. Gray, red, and black lines indicate Bonferroni-corrected threshold with an experimental" },
  { y: 771, len: 216, bold: "", text: "type I error rate at \u03b1 = 0.05." }
];
capLines.forEach(function(l) {
  var t = svg.append("text")
    .attr("x", 15).attr("y", l.y)
    .attr("font-size", "18px")
    .attr("fill", "#333")
    .attr("textLength", l.len)
    .attr("lengthAdjust", "spacingAndGlyphs");
  if (l.bold) t.append("tspan").attr("font-weight", "bold").attr("fill", "#222").text(l.bold);
  t.append("tspan").text(l.text);
});
</script>
</body>
</html>
